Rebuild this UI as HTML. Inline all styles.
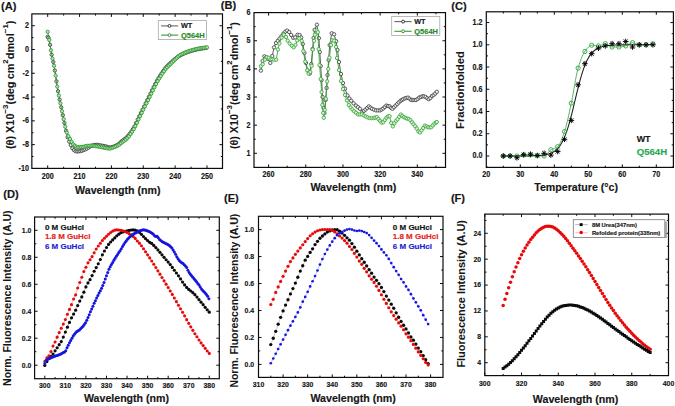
<!DOCTYPE html>
<html><head><meta charset="utf-8"><style>html,body{margin:0;padding:0;background:#fff;}svg{display:block;font-family:"Liberation Sans",sans-serif;}</style></head><body>
<svg xmlns="http://www.w3.org/2000/svg" width="675" height="406" viewBox="0 0 675 406" font-family='"Liberation Sans", sans-serif'>
<rect width="675" height="406" fill="#fff"/>
<rect x="31.85" y="13.9" width="190.65" height="154.5" fill="none" stroke="#0c0c0c" stroke-width="1.2"/>
<path d="M47.7 168.4v-3.0M47.7 13.9v3.0M79.56 168.4v-3.0M79.56 13.9v3.0M111.42 168.4v-3.0M111.42 13.9v3.0M143.28 168.4v-3.0M143.28 13.9v3.0M175.14 168.4v-3.0M175.14 13.9v3.0M207 168.4v-3.0M207 13.9v3.0M63.63 168.4v-1.7M63.63 13.9v1.7M95.49 168.4v-1.7M95.49 13.9v1.7M127.35 168.4v-1.7M127.35 13.9v1.7M159.21 168.4v-1.7M159.21 13.9v1.7M191.07 168.4v-1.7M191.07 13.9v1.7M31.85 144.62h3.0M222.5 144.62h-3.0M31.85 120.84h3.0M222.5 120.84h-3.0M31.85 97.06h3.0M222.5 97.06h-3.0M31.85 73.28h3.0M222.5 73.28h-3.0M31.85 49.5h3.0M222.5 49.5h-3.0M31.85 25.72h3.0M222.5 25.72h-3.0M31.85 156.51h1.7M222.5 156.51h-1.7M31.85 132.73h1.7M222.5 132.73h-1.7M31.85 108.95h1.7M222.5 108.95h-1.7M31.85 85.17h1.7M222.5 85.17h-1.7M31.85 61.39h1.7M222.5 61.39h-1.7M31.85 37.61h1.7M222.5 37.61h-1.7" stroke="#0c0c0c" stroke-width="1" fill="none"/>
<text x="47.7" y="178.6" font-size="8.28" text-anchor="middle" fill="#161616" stroke="#161616" stroke-width="0.15" font-weight="bold" textLength="12.01" lengthAdjust="spacingAndGlyphs">200</text>
<text x="79.56" y="178.6" font-size="8.28" text-anchor="middle" fill="#161616" stroke="#161616" stroke-width="0.15" font-weight="bold" textLength="12.01" lengthAdjust="spacingAndGlyphs">210</text>
<text x="111.42" y="178.6" font-size="8.28" text-anchor="middle" fill="#161616" stroke="#161616" stroke-width="0.15" font-weight="bold" textLength="12.01" lengthAdjust="spacingAndGlyphs">220</text>
<text x="143.28" y="178.6" font-size="8.28" text-anchor="middle" fill="#161616" stroke="#161616" stroke-width="0.15" font-weight="bold" textLength="12.01" lengthAdjust="spacingAndGlyphs">230</text>
<text x="175.14" y="178.6" font-size="8.28" text-anchor="middle" fill="#161616" stroke="#161616" stroke-width="0.15" font-weight="bold" textLength="12.01" lengthAdjust="spacingAndGlyphs">240</text>
<text x="207" y="178.6" font-size="8.28" text-anchor="middle" fill="#161616" stroke="#161616" stroke-width="0.15" font-weight="bold" textLength="12.01" lengthAdjust="spacingAndGlyphs">250</text>
<text x="29" y="170.88" font-size="8.28" text-anchor="end" fill="#161616" stroke="#161616" stroke-width="0.15" font-weight="bold" textLength="10.41" lengthAdjust="spacingAndGlyphs">-10</text>
<text x="29" y="147.1" font-size="8.28" text-anchor="end" fill="#161616" stroke="#161616" stroke-width="0.15" font-weight="bold" textLength="6.4" lengthAdjust="spacingAndGlyphs">-8</text>
<text x="29" y="123.32" font-size="8.28" text-anchor="end" fill="#161616" stroke="#161616" stroke-width="0.15" font-weight="bold" textLength="6.4" lengthAdjust="spacingAndGlyphs">-6</text>
<text x="29" y="99.54" font-size="8.28" text-anchor="end" fill="#161616" stroke="#161616" stroke-width="0.15" font-weight="bold" textLength="6.4" lengthAdjust="spacingAndGlyphs">-4</text>
<text x="29" y="75.76" font-size="8.28" text-anchor="end" fill="#161616" stroke="#161616" stroke-width="0.15" font-weight="bold" textLength="6.4" lengthAdjust="spacingAndGlyphs">-2</text>
<text x="29" y="51.98" font-size="8.28" text-anchor="end" fill="#161616" stroke="#161616" stroke-width="0.15" font-weight="bold" textLength="4" lengthAdjust="spacingAndGlyphs">0</text>
<text x="29" y="28.2" font-size="8.28" text-anchor="end" fill="#161616" stroke="#161616" stroke-width="0.15" font-weight="bold" textLength="4" lengthAdjust="spacingAndGlyphs">2</text>
<rect x="254" y="12.6" width="191.5" height="154.8" fill="none" stroke="#0c0c0c" stroke-width="1.2"/>
<path d="M268.6 167.4v-3.0M268.6 12.6v3.0M305.78 167.4v-3.0M305.78 12.6v3.0M342.96 167.4v-3.0M342.96 12.6v3.0M380.13 167.4v-3.0M380.13 12.6v3.0M417.31 167.4v-3.0M417.31 12.6v3.0M287.19 167.4v-1.7M287.19 12.6v1.7M324.37 167.4v-1.7M324.37 12.6v1.7M361.54 167.4v-1.7M361.54 12.6v1.7M398.72 167.4v-1.7M398.72 12.6v1.7M435.9 167.4v-1.7M435.9 12.6v1.7M254 153.3h3.0M445.5 153.3h-3.0M254 125.16h3.0M445.5 125.16h-3.0M254 97.02h3.0M445.5 97.02h-3.0M254 68.88h3.0M445.5 68.88h-3.0M254 40.74h3.0M445.5 40.74h-3.0M254 139.23h1.7M445.5 139.23h-1.7M254 111.09h1.7M445.5 111.09h-1.7M254 82.95h1.7M445.5 82.95h-1.7M254 54.81h1.7M445.5 54.81h-1.7M254 26.67h1.7M445.5 26.67h-1.7" stroke="#0c0c0c" stroke-width="1" fill="none"/>
<text x="268.6" y="177.4" font-size="8.28" text-anchor="middle" fill="#161616" stroke="#161616" stroke-width="0.15" font-weight="bold" textLength="12.01" lengthAdjust="spacingAndGlyphs">260</text>
<text x="305.78" y="177.4" font-size="8.28" text-anchor="middle" fill="#161616" stroke="#161616" stroke-width="0.15" font-weight="bold" textLength="12.01" lengthAdjust="spacingAndGlyphs">280</text>
<text x="342.96" y="177.4" font-size="8.28" text-anchor="middle" fill="#161616" stroke="#161616" stroke-width="0.15" font-weight="bold" textLength="12.01" lengthAdjust="spacingAndGlyphs">300</text>
<text x="380.13" y="177.4" font-size="8.28" text-anchor="middle" fill="#161616" stroke="#161616" stroke-width="0.15" font-weight="bold" textLength="12.01" lengthAdjust="spacingAndGlyphs">320</text>
<text x="417.31" y="177.4" font-size="8.28" text-anchor="middle" fill="#161616" stroke="#161616" stroke-width="0.15" font-weight="bold" textLength="12.01" lengthAdjust="spacingAndGlyphs">340</text>
<text x="250.6" y="155.78" font-size="8.28" text-anchor="end" fill="#161616" stroke="#161616" stroke-width="0.15" font-weight="bold" textLength="4" lengthAdjust="spacingAndGlyphs">1</text>
<text x="250.6" y="127.64" font-size="8.28" text-anchor="end" fill="#161616" stroke="#161616" stroke-width="0.15" font-weight="bold" textLength="4" lengthAdjust="spacingAndGlyphs">2</text>
<text x="250.6" y="99.5" font-size="8.28" text-anchor="end" fill="#161616" stroke="#161616" stroke-width="0.15" font-weight="bold" textLength="4" lengthAdjust="spacingAndGlyphs">3</text>
<text x="250.6" y="71.36" font-size="8.28" text-anchor="end" fill="#161616" stroke="#161616" stroke-width="0.15" font-weight="bold" textLength="4" lengthAdjust="spacingAndGlyphs">4</text>
<text x="250.6" y="43.22" font-size="8.28" text-anchor="end" fill="#161616" stroke="#161616" stroke-width="0.15" font-weight="bold" textLength="4" lengthAdjust="spacingAndGlyphs">5</text>
<text x="250.6" y="15.08" font-size="8.28" text-anchor="end" fill="#161616" stroke="#161616" stroke-width="0.15" font-weight="bold" textLength="4" lengthAdjust="spacingAndGlyphs">6</text>
<rect x="486.3" y="11.8" width="187.1" height="155.6" fill="none" stroke="#0c0c0c" stroke-width="1.2"/>
<path d="M520.3 167.4v-3.0M520.3 11.8v3.0M554.3 167.4v-3.0M554.3 11.8v3.0M588.3 167.4v-3.0M588.3 11.8v3.0M622.3 167.4v-3.0M622.3 11.8v3.0M656.3 167.4v-3.0M656.3 11.8v3.0M503.3 167.4v-1.7M503.3 11.8v1.7M537.3 167.4v-1.7M537.3 11.8v1.7M571.3 167.4v-1.7M571.3 11.8v1.7M605.3 167.4v-1.7M605.3 11.8v1.7M639.3 167.4v-1.7M639.3 11.8v1.7M486.3 156h3.0M673.4 156h-3.0M486.3 133.76h3.0M673.4 133.76h-3.0M486.3 111.52h3.0M673.4 111.52h-3.0M486.3 89.28h3.0M673.4 89.28h-3.0M486.3 67.04h3.0M673.4 67.04h-3.0M486.3 44.8h3.0M673.4 44.8h-3.0M486.3 22.56h3.0M673.4 22.56h-3.0M486.3 167.12h1.7M673.4 167.12h-1.7M486.3 144.88h1.7M673.4 144.88h-1.7M486.3 122.64h1.7M673.4 122.64h-1.7M486.3 100.4h1.7M673.4 100.4h-1.7M486.3 78.16h1.7M673.4 78.16h-1.7M486.3 55.92h1.7M673.4 55.92h-1.7M486.3 33.68h1.7M673.4 33.68h-1.7" stroke="#0c0c0c" stroke-width="1" fill="none"/>
<text x="486.3" y="177" font-size="8.28" text-anchor="middle" fill="#161616" stroke="#161616" stroke-width="0.15" font-weight="bold" textLength="8.01" lengthAdjust="spacingAndGlyphs">20</text>
<text x="520.3" y="177" font-size="8.28" text-anchor="middle" fill="#161616" stroke="#161616" stroke-width="0.15" font-weight="bold" textLength="8.01" lengthAdjust="spacingAndGlyphs">30</text>
<text x="554.3" y="177" font-size="8.28" text-anchor="middle" fill="#161616" stroke="#161616" stroke-width="0.15" font-weight="bold" textLength="8.01" lengthAdjust="spacingAndGlyphs">40</text>
<text x="588.3" y="177" font-size="8.28" text-anchor="middle" fill="#161616" stroke="#161616" stroke-width="0.15" font-weight="bold" textLength="8.01" lengthAdjust="spacingAndGlyphs">50</text>
<text x="622.3" y="177" font-size="8.28" text-anchor="middle" fill="#161616" stroke="#161616" stroke-width="0.15" font-weight="bold" textLength="8.01" lengthAdjust="spacingAndGlyphs">60</text>
<text x="656.3" y="177" font-size="8.28" text-anchor="middle" fill="#161616" stroke="#161616" stroke-width="0.15" font-weight="bold" textLength="8.01" lengthAdjust="spacingAndGlyphs">70</text>
<text x="482.6" y="158.48" font-size="8.28" text-anchor="end" fill="#161616" stroke="#161616" stroke-width="0.15" font-weight="bold" textLength="10.01" lengthAdjust="spacingAndGlyphs">0.0</text>
<text x="482.6" y="136.24" font-size="8.28" text-anchor="end" fill="#161616" stroke="#161616" stroke-width="0.15" font-weight="bold" textLength="10.01" lengthAdjust="spacingAndGlyphs">0.2</text>
<text x="482.6" y="114" font-size="8.28" text-anchor="end" fill="#161616" stroke="#161616" stroke-width="0.15" font-weight="bold" textLength="10.01" lengthAdjust="spacingAndGlyphs">0.4</text>
<text x="482.6" y="91.76" font-size="8.28" text-anchor="end" fill="#161616" stroke="#161616" stroke-width="0.15" font-weight="bold" textLength="10.01" lengthAdjust="spacingAndGlyphs">0.6</text>
<text x="482.6" y="69.52" font-size="8.28" text-anchor="end" fill="#161616" stroke="#161616" stroke-width="0.15" font-weight="bold" textLength="10.01" lengthAdjust="spacingAndGlyphs">0.8</text>
<text x="482.6" y="47.28" font-size="8.28" text-anchor="end" fill="#161616" stroke="#161616" stroke-width="0.15" font-weight="bold" textLength="10.01" lengthAdjust="spacingAndGlyphs">1.0</text>
<text x="482.6" y="25.04" font-size="8.28" text-anchor="end" fill="#161616" stroke="#161616" stroke-width="0.15" font-weight="bold" textLength="10.01" lengthAdjust="spacingAndGlyphs">1.2</text>
<rect x="34.6" y="217" width="184.7" height="161.7" fill="none" stroke="#0c0c0c" stroke-width="1.2"/>
<path d="M44.8 378.7v-3.0M44.8 217v3.0M65.36 378.7v-3.0M65.36 217v3.0M85.92 378.7v-3.0M85.92 217v3.0M106.49 378.7v-3.0M106.49 217v3.0M127.05 378.7v-3.0M127.05 217v3.0M147.61 378.7v-3.0M147.61 217v3.0M168.18 378.7v-3.0M168.18 217v3.0M188.74 378.7v-3.0M188.74 217v3.0M209.3 378.7v-3.0M209.3 217v3.0M55.08 378.7v-1.7M55.08 217v1.7M75.64 378.7v-1.7M75.64 217v1.7M96.21 378.7v-1.7M96.21 217v1.7M116.77 378.7v-1.7M116.77 217v1.7M137.33 378.7v-1.7M137.33 217v1.7M157.89 378.7v-1.7M157.89 217v1.7M178.46 378.7v-1.7M178.46 217v1.7M199.02 378.7v-1.7M199.02 217v1.7M34.6 365.2h3.0M219.3 365.2h-3.0M34.6 338.22h3.0M219.3 338.22h-3.0M34.6 311.24h3.0M219.3 311.24h-3.0M34.6 284.26h3.0M219.3 284.26h-3.0M34.6 257.28h3.0M219.3 257.28h-3.0M34.6 230.3h3.0M219.3 230.3h-3.0M34.6 351.71h1.7M219.3 351.71h-1.7M34.6 324.73h1.7M219.3 324.73h-1.7M34.6 297.75h1.7M219.3 297.75h-1.7M34.6 270.77h1.7M219.3 270.77h-1.7M34.6 243.79h1.7M219.3 243.79h-1.7" stroke="#0c0c0c" stroke-width="1" fill="none"/>
<text x="44.8" y="388.3" font-size="7.93" text-anchor="middle" fill="#161616" stroke="#161616" stroke-width="0.15" font-weight="bold" textLength="11.51" lengthAdjust="spacingAndGlyphs">300</text>
<text x="65.36" y="388.3" font-size="7.93" text-anchor="middle" fill="#161616" stroke="#161616" stroke-width="0.15" font-weight="bold" textLength="11.51" lengthAdjust="spacingAndGlyphs">310</text>
<text x="85.92" y="388.3" font-size="7.93" text-anchor="middle" fill="#161616" stroke="#161616" stroke-width="0.15" font-weight="bold" textLength="11.51" lengthAdjust="spacingAndGlyphs">320</text>
<text x="106.49" y="388.3" font-size="7.93" text-anchor="middle" fill="#161616" stroke="#161616" stroke-width="0.15" font-weight="bold" textLength="11.51" lengthAdjust="spacingAndGlyphs">330</text>
<text x="127.05" y="388.3" font-size="7.93" text-anchor="middle" fill="#161616" stroke="#161616" stroke-width="0.15" font-weight="bold" textLength="11.51" lengthAdjust="spacingAndGlyphs">340</text>
<text x="147.61" y="388.3" font-size="7.93" text-anchor="middle" fill="#161616" stroke="#161616" stroke-width="0.15" font-weight="bold" textLength="11.51" lengthAdjust="spacingAndGlyphs">350</text>
<text x="168.18" y="388.3" font-size="7.93" text-anchor="middle" fill="#161616" stroke="#161616" stroke-width="0.15" font-weight="bold" textLength="11.51" lengthAdjust="spacingAndGlyphs">360</text>
<text x="188.74" y="388.3" font-size="7.93" text-anchor="middle" fill="#161616" stroke="#161616" stroke-width="0.15" font-weight="bold" textLength="11.51" lengthAdjust="spacingAndGlyphs">370</text>
<text x="209.3" y="388.3" font-size="7.93" text-anchor="middle" fill="#161616" stroke="#161616" stroke-width="0.15" font-weight="bold" textLength="11.51" lengthAdjust="spacingAndGlyphs">380</text>
<text x="31.4" y="367.58" font-size="7.93" text-anchor="end" fill="#161616" stroke="#161616" stroke-width="0.15" font-weight="bold" textLength="9.59" lengthAdjust="spacingAndGlyphs">0.0</text>
<text x="31.4" y="340.6" font-size="7.93" text-anchor="end" fill="#161616" stroke="#161616" stroke-width="0.15" font-weight="bold" textLength="9.59" lengthAdjust="spacingAndGlyphs">0.2</text>
<text x="31.4" y="313.62" font-size="7.93" text-anchor="end" fill="#161616" stroke="#161616" stroke-width="0.15" font-weight="bold" textLength="9.59" lengthAdjust="spacingAndGlyphs">0.4</text>
<text x="31.4" y="286.64" font-size="7.93" text-anchor="end" fill="#161616" stroke="#161616" stroke-width="0.15" font-weight="bold" textLength="9.59" lengthAdjust="spacingAndGlyphs">0.6</text>
<text x="31.4" y="259.66" font-size="7.93" text-anchor="end" fill="#161616" stroke="#161616" stroke-width="0.15" font-weight="bold" textLength="9.59" lengthAdjust="spacingAndGlyphs">0.8</text>
<text x="31.4" y="232.68" font-size="7.93" text-anchor="end" fill="#161616" stroke="#161616" stroke-width="0.15" font-weight="bold" textLength="9.59" lengthAdjust="spacingAndGlyphs">1.0</text>
<rect x="258.5" y="216.3" width="184.5" height="161.1" fill="none" stroke="#0c0c0c" stroke-width="1.2"/>
<path d="M258.5 377.4v-3.0M258.5 216.3v3.0M283.09 377.4v-3.0M283.09 216.3v3.0M307.67 377.4v-3.0M307.67 216.3v3.0M332.26 377.4v-3.0M332.26 216.3v3.0M356.84 377.4v-3.0M356.84 216.3v3.0M381.43 377.4v-3.0M381.43 216.3v3.0M406.01 377.4v-3.0M406.01 216.3v3.0M430.6 377.4v-3.0M430.6 216.3v3.0M270.79 377.4v-1.7M270.79 216.3v1.7M295.38 377.4v-1.7M295.38 216.3v1.7M319.96 377.4v-1.7M319.96 216.3v1.7M344.55 377.4v-1.7M344.55 216.3v1.7M369.14 377.4v-1.7M369.14 216.3v1.7M393.72 377.4v-1.7M393.72 216.3v1.7M418.31 377.4v-1.7M418.31 216.3v1.7M258.5 364.4h3.0M443 364.4h-3.0M258.5 337.44h3.0M443 337.44h-3.0M258.5 310.48h3.0M443 310.48h-3.0M258.5 283.52h3.0M443 283.52h-3.0M258.5 256.56h3.0M443 256.56h-3.0M258.5 229.6h3.0M443 229.6h-3.0M258.5 350.92h1.7M443 350.92h-1.7M258.5 323.96h1.7M443 323.96h-1.7M258.5 297h1.7M443 297h-1.7M258.5 270.04h1.7M443 270.04h-1.7M258.5 243.08h1.7M443 243.08h-1.7" stroke="#0c0c0c" stroke-width="1" fill="none"/>
<text x="258.5" y="386.8" font-size="7.93" text-anchor="middle" fill="#161616" stroke="#161616" stroke-width="0.15" font-weight="bold" textLength="11.51" lengthAdjust="spacingAndGlyphs">310</text>
<text x="283.09" y="386.8" font-size="7.93" text-anchor="middle" fill="#161616" stroke="#161616" stroke-width="0.15" font-weight="bold" textLength="11.51" lengthAdjust="spacingAndGlyphs">320</text>
<text x="307.67" y="386.8" font-size="7.93" text-anchor="middle" fill="#161616" stroke="#161616" stroke-width="0.15" font-weight="bold" textLength="11.51" lengthAdjust="spacingAndGlyphs">330</text>
<text x="332.26" y="386.8" font-size="7.93" text-anchor="middle" fill="#161616" stroke="#161616" stroke-width="0.15" font-weight="bold" textLength="11.51" lengthAdjust="spacingAndGlyphs">340</text>
<text x="356.84" y="386.8" font-size="7.93" text-anchor="middle" fill="#161616" stroke="#161616" stroke-width="0.15" font-weight="bold" textLength="11.51" lengthAdjust="spacingAndGlyphs">350</text>
<text x="381.43" y="386.8" font-size="7.93" text-anchor="middle" fill="#161616" stroke="#161616" stroke-width="0.15" font-weight="bold" textLength="11.51" lengthAdjust="spacingAndGlyphs">360</text>
<text x="406.01" y="386.8" font-size="7.93" text-anchor="middle" fill="#161616" stroke="#161616" stroke-width="0.15" font-weight="bold" textLength="11.51" lengthAdjust="spacingAndGlyphs">370</text>
<text x="430.6" y="386.8" font-size="7.93" text-anchor="middle" fill="#161616" stroke="#161616" stroke-width="0.15" font-weight="bold" textLength="11.51" lengthAdjust="spacingAndGlyphs">380</text>
<text x="254.2" y="366.78" font-size="7.93" text-anchor="end" fill="#161616" stroke="#161616" stroke-width="0.15" font-weight="bold" textLength="9.59" lengthAdjust="spacingAndGlyphs">0.0</text>
<text x="254.2" y="339.82" font-size="7.93" text-anchor="end" fill="#161616" stroke="#161616" stroke-width="0.15" font-weight="bold" textLength="9.59" lengthAdjust="spacingAndGlyphs">0.2</text>
<text x="254.2" y="312.86" font-size="7.93" text-anchor="end" fill="#161616" stroke="#161616" stroke-width="0.15" font-weight="bold" textLength="9.59" lengthAdjust="spacingAndGlyphs">0.4</text>
<text x="254.2" y="285.9" font-size="7.93" text-anchor="end" fill="#161616" stroke="#161616" stroke-width="0.15" font-weight="bold" textLength="9.59" lengthAdjust="spacingAndGlyphs">0.6</text>
<text x="254.2" y="258.94" font-size="7.93" text-anchor="end" fill="#161616" stroke="#161616" stroke-width="0.15" font-weight="bold" textLength="9.59" lengthAdjust="spacingAndGlyphs">0.8</text>
<text x="254.2" y="231.98" font-size="7.93" text-anchor="end" fill="#161616" stroke="#161616" stroke-width="0.15" font-weight="bold" textLength="9.59" lengthAdjust="spacingAndGlyphs">1.0</text>
<rect x="484.8" y="214.1" width="183.7" height="161.5" fill="none" stroke="#0c0c0c" stroke-width="1.2"/>
<path d="M484.8 375.6v-3.0M484.8 214.1v3.0M521.54 375.6v-3.0M521.54 214.1v3.0M558.28 375.6v-3.0M558.28 214.1v3.0M595.02 375.6v-3.0M595.02 214.1v3.0M631.76 375.6v-3.0M631.76 214.1v3.0M668.5 375.6v-3.0M668.5 214.1v3.0M503.17 375.6v-1.7M503.17 214.1v1.7M539.91 375.6v-1.7M539.91 214.1v1.7M576.65 375.6v-1.7M576.65 214.1v1.7M613.39 375.6v-1.7M613.39 214.1v1.7M650.13 375.6v-1.7M650.13 214.1v1.7M484.8 362.7h3.0M668.5 362.7h-3.0M484.8 336.82h3.0M668.5 336.82h-3.0M484.8 310.94h3.0M668.5 310.94h-3.0M484.8 285.06h3.0M668.5 285.06h-3.0M484.8 259.18h3.0M668.5 259.18h-3.0M484.8 233.3h3.0M668.5 233.3h-3.0M484.8 349.76h1.7M668.5 349.76h-1.7M484.8 323.88h1.7M668.5 323.88h-1.7M484.8 298h1.7M668.5 298h-1.7M484.8 272.12h1.7M668.5 272.12h-1.7M484.8 246.24h1.7M668.5 246.24h-1.7M484.8 220.36h1.7M668.5 220.36h-1.7" stroke="#0c0c0c" stroke-width="1" fill="none"/>
<text x="484.8" y="385.6" font-size="7.93" text-anchor="middle" fill="#161616" stroke="#161616" stroke-width="0.15" font-weight="bold" textLength="11.51" lengthAdjust="spacingAndGlyphs">300</text>
<text x="521.54" y="385.6" font-size="7.93" text-anchor="middle" fill="#161616" stroke="#161616" stroke-width="0.15" font-weight="bold" textLength="11.51" lengthAdjust="spacingAndGlyphs">320</text>
<text x="558.28" y="385.6" font-size="7.93" text-anchor="middle" fill="#161616" stroke="#161616" stroke-width="0.15" font-weight="bold" textLength="11.51" lengthAdjust="spacingAndGlyphs">340</text>
<text x="595.02" y="385.6" font-size="7.93" text-anchor="middle" fill="#161616" stroke="#161616" stroke-width="0.15" font-weight="bold" textLength="11.51" lengthAdjust="spacingAndGlyphs">360</text>
<text x="631.76" y="385.6" font-size="7.93" text-anchor="middle" fill="#161616" stroke="#161616" stroke-width="0.15" font-weight="bold" textLength="11.51" lengthAdjust="spacingAndGlyphs">380</text>
<text x="668.5" y="385.6" font-size="7.93" text-anchor="middle" fill="#161616" stroke="#161616" stroke-width="0.15" font-weight="bold" textLength="11.51" lengthAdjust="spacingAndGlyphs">400</text>
<text x="481.2" y="365.08" font-size="7.93" text-anchor="end" fill="#161616" stroke="#161616" stroke-width="0.15" font-weight="bold" textLength="3.84" lengthAdjust="spacingAndGlyphs">4</text>
<text x="481.2" y="339.2" font-size="7.93" text-anchor="end" fill="#161616" stroke="#161616" stroke-width="0.15" font-weight="bold" textLength="3.84" lengthAdjust="spacingAndGlyphs">8</text>
<text x="481.2" y="313.32" font-size="7.93" text-anchor="end" fill="#161616" stroke="#161616" stroke-width="0.15" font-weight="bold" textLength="7.67" lengthAdjust="spacingAndGlyphs">12</text>
<text x="481.2" y="287.44" font-size="7.93" text-anchor="end" fill="#161616" stroke="#161616" stroke-width="0.15" font-weight="bold" textLength="7.67" lengthAdjust="spacingAndGlyphs">16</text>
<text x="481.2" y="261.56" font-size="7.93" text-anchor="end" fill="#161616" stroke="#161616" stroke-width="0.15" font-weight="bold" textLength="7.67" lengthAdjust="spacingAndGlyphs">20</text>
<text x="481.2" y="235.68" font-size="7.93" text-anchor="end" fill="#161616" stroke="#161616" stroke-width="0.15" font-weight="bold" textLength="7.67" lengthAdjust="spacingAndGlyphs">24</text>
<polyline points="47.7,36.8 48.5,37.8 50.09,44.85 51.68,54.68 53.28,61.97 54.87,70.5 56.46,81.31 58.05,91.23 59.65,99.57 61.24,107.28 62.83,115.17 64.43,123.03 66.02,130.79 67.61,137.15 69.21,141.59 70.8,145.13 72.39,148.25 73.98,150.12 75.58,151.24 77.17,151.49 78.76,151.36 80.36,151.14 81.95,150.68 83.54,150.1 85.14,149.42 86.73,148.64 88.32,147.65 89.91,146.54 91.51,145.82 93.1,145.29 94.69,144.91 96.29,144.8 97.88,144.95 99.47,145.23 101.07,145.51 102.66,145.77 104.25,146.05 105.84,146.42 107.44,146.96 109.03,147.4 110.62,147.46 112.22,147.1 113.81,146.56 115.4,145.94 117,145.11 118.59,144.08 120.18,142.66 121.77,141.19 123.37,139.99 124.96,138.87 126.55,137.47 128.15,135.75 129.74,133.77 131.33,131.55 132.93,129.12 134.52,126.37 136.11,123.04 137.7,119.55 139.3,116.26 140.89,113 142.48,109.75 144.08,106.52 145.67,103.31 147.26,100.09 148.86,96.85 150.45,93.57 152.04,90.32 153.63,87.14 155.23,83.99 156.82,80.97 158.41,78.25 160.01,75.77 161.6,73.41 163.19,71.08 164.79,68.88 166.38,66.98 167.97,65.36 169.56,63.9 171.16,62.46 172.75,60.98 174.34,59.55 175.94,58.25 177.53,57.08 179.12,56.02 180.72,55.11 182.31,54.3 183.9,53.57 185.49,52.9 187.09,52.29 188.68,51.73 190.27,51.21 191.87,50.74 193.46,50.3 195.05,49.89 196.65,49.5 198.24,49.14 199.83,48.83 201.42,48.58 203.02,48.36 204.61,48.16 206.2,47.97" fill="none" stroke="#2a2a2a" stroke-width="0.8" stroke-linejoin="round" opacity="1"/>
<g fill="#e4e4e4" stroke="#333" stroke-width="0.8"><circle cx="47.7" cy="36.8" r="1.65"/><circle cx="48.5" cy="37.8" r="1.65"/><circle cx="50.09" cy="44.85" r="1.65"/><circle cx="51.68" cy="54.68" r="1.65"/><circle cx="53.28" cy="61.97" r="1.65"/><circle cx="54.87" cy="70.5" r="1.65"/><circle cx="56.46" cy="81.31" r="1.65"/><circle cx="58.05" cy="91.23" r="1.65"/><circle cx="59.65" cy="99.57" r="1.65"/><circle cx="61.24" cy="107.28" r="1.65"/><circle cx="62.83" cy="115.17" r="1.65"/><circle cx="64.43" cy="123.03" r="1.65"/><circle cx="66.02" cy="130.79" r="1.65"/><circle cx="67.61" cy="137.15" r="1.65"/><circle cx="69.21" cy="141.59" r="1.65"/><circle cx="70.8" cy="145.13" r="1.65"/><circle cx="72.39" cy="148.25" r="1.65"/><circle cx="73.98" cy="150.12" r="1.65"/><circle cx="75.58" cy="151.24" r="1.65"/><circle cx="77.17" cy="151.49" r="1.65"/><circle cx="78.76" cy="151.36" r="1.65"/><circle cx="80.36" cy="151.14" r="1.65"/><circle cx="81.95" cy="150.68" r="1.65"/><circle cx="83.54" cy="150.1" r="1.65"/><circle cx="85.14" cy="149.42" r="1.65"/><circle cx="86.73" cy="148.64" r="1.65"/><circle cx="88.32" cy="147.65" r="1.65"/><circle cx="89.91" cy="146.54" r="1.65"/><circle cx="91.51" cy="145.82" r="1.65"/><circle cx="93.1" cy="145.29" r="1.65"/><circle cx="94.69" cy="144.91" r="1.65"/><circle cx="96.29" cy="144.8" r="1.65"/><circle cx="97.88" cy="144.95" r="1.65"/><circle cx="99.47" cy="145.23" r="1.65"/><circle cx="101.07" cy="145.51" r="1.65"/><circle cx="102.66" cy="145.77" r="1.65"/><circle cx="104.25" cy="146.05" r="1.65"/><circle cx="105.84" cy="146.42" r="1.65"/><circle cx="107.44" cy="146.96" r="1.65"/><circle cx="109.03" cy="147.4" r="1.65"/><circle cx="110.62" cy="147.46" r="1.65"/><circle cx="112.22" cy="147.1" r="1.65"/><circle cx="113.81" cy="146.56" r="1.65"/><circle cx="115.4" cy="145.94" r="1.65"/><circle cx="117" cy="145.11" r="1.65"/><circle cx="118.59" cy="144.08" r="1.65"/><circle cx="120.18" cy="142.66" r="1.65"/><circle cx="121.77" cy="141.19" r="1.65"/><circle cx="123.37" cy="139.99" r="1.65"/><circle cx="124.96" cy="138.87" r="1.65"/><circle cx="126.55" cy="137.47" r="1.65"/><circle cx="128.15" cy="135.75" r="1.65"/><circle cx="129.74" cy="133.77" r="1.65"/><circle cx="131.33" cy="131.55" r="1.65"/><circle cx="132.93" cy="129.12" r="1.65"/><circle cx="134.52" cy="126.37" r="1.65"/><circle cx="136.11" cy="123.04" r="1.65"/><circle cx="137.7" cy="119.55" r="1.65"/><circle cx="139.3" cy="116.26" r="1.65"/><circle cx="140.89" cy="113" r="1.65"/><circle cx="142.48" cy="109.75" r="1.65"/><circle cx="144.08" cy="106.52" r="1.65"/><circle cx="145.67" cy="103.31" r="1.65"/><circle cx="147.26" cy="100.09" r="1.65"/><circle cx="148.86" cy="96.85" r="1.65"/><circle cx="150.45" cy="93.57" r="1.65"/><circle cx="152.04" cy="90.32" r="1.65"/><circle cx="153.63" cy="87.14" r="1.65"/><circle cx="155.23" cy="83.99" r="1.65"/><circle cx="156.82" cy="80.97" r="1.65"/><circle cx="158.41" cy="78.25" r="1.65"/><circle cx="160.01" cy="75.77" r="1.65"/><circle cx="161.6" cy="73.41" r="1.65"/><circle cx="163.19" cy="71.08" r="1.65"/><circle cx="164.79" cy="68.88" r="1.65"/><circle cx="166.38" cy="66.98" r="1.65"/><circle cx="167.97" cy="65.36" r="1.65"/><circle cx="169.56" cy="63.9" r="1.65"/><circle cx="171.16" cy="62.46" r="1.65"/><circle cx="172.75" cy="60.98" r="1.65"/><circle cx="174.34" cy="59.55" r="1.65"/><circle cx="175.94" cy="58.25" r="1.65"/><circle cx="177.53" cy="57.08" r="1.65"/><circle cx="179.12" cy="56.02" r="1.65"/><circle cx="180.72" cy="55.11" r="1.65"/><circle cx="182.31" cy="54.3" r="1.65"/><circle cx="183.9" cy="53.57" r="1.65"/><circle cx="185.49" cy="52.9" r="1.65"/><circle cx="187.09" cy="52.29" r="1.65"/><circle cx="188.68" cy="51.73" r="1.65"/><circle cx="190.27" cy="51.21" r="1.65"/><circle cx="191.87" cy="50.74" r="1.65"/><circle cx="193.46" cy="50.3" r="1.65"/><circle cx="195.05" cy="49.89" r="1.65"/><circle cx="196.65" cy="49.5" r="1.65"/><circle cx="198.24" cy="49.14" r="1.65"/><circle cx="199.83" cy="48.83" r="1.65"/><circle cx="201.42" cy="48.58" r="1.65"/><circle cx="203.02" cy="48.36" r="1.65"/><circle cx="204.61" cy="48.16" r="1.65"/><circle cx="206.2" cy="47.97" r="1.65"/></g>
<polyline points="47.7,31.8 49.29,39.88 50.89,50.3 52.48,58.57 54.07,65.81 55.67,75.63 57.26,86.6 58.85,95.54 60.44,103.39 62.04,111.23 63.63,119.19 65.22,126.68 66.82,132.54 68.41,136.15 70,138.99 71.59,141.81 73.19,144.27 74.78,145.69 76.37,146.74 77.97,147.28 79.56,147.26 81.15,147.11 82.75,146.91 84.34,146.56 85.93,146.12 87.53,145.88 89.12,145.77 90.71,145.71 92.3,145.72 93.9,145.87 95.49,146.11 97.08,146.35 98.68,146.64 100.27,146.94 101.86,147.23 103.46,147.53 105.05,147.81 106.64,148.13 108.23,148.42 109.83,148.48 111.42,148.13 113.01,147.53 114.61,146.94 116.2,146.27 117.79,145.48 119.39,144.5 120.98,143.26 122.57,141.98 124.16,140.83 125.76,139.65 127.35,138.14 128.94,136.27 130.54,134.11 132.13,131.7 133.72,129.13 135.31,126.18 136.91,122.8 138.5,119.4 140.09,116.14 141.69,112.88 143.28,109.64 144.87,106.47 146.47,103.34 148.06,100.18 149.65,96.95 151.25,93.66 152.84,90.42 154.43,87.25 156.02,84.12 157.62,81.17 159.21,78.51 160.8,76.05 162.4,73.63 163.99,71.21 165.58,69.01 167.18,67.22 168.77,65.69 170.36,64.22 171.95,62.64 173.55,61.02 175.14,59.42 176.73,57.91 178.33,56.41 179.92,55.15 181.51,54.21 183.11,53.42 184.7,52.73 186.29,52.08 187.88,51.5 189.48,50.97 191.07,50.47 192.66,50.01 194.26,49.59 195.85,49.19 197.44,48.82 199.04,48.48 200.63,48.2 202.22,47.97 203.81,47.76 205.41,47.56 207,47.38" fill="none" stroke="#2f9a2f" stroke-width="0.8" stroke-linejoin="round" opacity="1"/>
<g fill="#b4e6b4" stroke="#2c962c" stroke-width="0.85"><circle cx="47.7" cy="31.8" r="1.65"/><circle cx="49.29" cy="39.88" r="1.65"/><circle cx="50.89" cy="50.3" r="1.65"/><circle cx="52.48" cy="58.57" r="1.65"/><circle cx="54.07" cy="65.81" r="1.65"/><circle cx="55.67" cy="75.63" r="1.65"/><circle cx="57.26" cy="86.6" r="1.65"/><circle cx="58.85" cy="95.54" r="1.65"/><circle cx="60.44" cy="103.39" r="1.65"/><circle cx="62.04" cy="111.23" r="1.65"/><circle cx="63.63" cy="119.19" r="1.65"/><circle cx="65.22" cy="126.68" r="1.65"/><circle cx="66.82" cy="132.54" r="1.65"/><circle cx="68.41" cy="136.15" r="1.65"/><circle cx="70" cy="138.99" r="1.65"/><circle cx="71.59" cy="141.81" r="1.65"/><circle cx="73.19" cy="144.27" r="1.65"/><circle cx="74.78" cy="145.69" r="1.65"/><circle cx="76.37" cy="146.74" r="1.65"/><circle cx="77.97" cy="147.28" r="1.65"/><circle cx="79.56" cy="147.26" r="1.65"/><circle cx="81.15" cy="147.11" r="1.65"/><circle cx="82.75" cy="146.91" r="1.65"/><circle cx="84.34" cy="146.56" r="1.65"/><circle cx="85.93" cy="146.12" r="1.65"/><circle cx="87.53" cy="145.88" r="1.65"/><circle cx="89.12" cy="145.77" r="1.65"/><circle cx="90.71" cy="145.71" r="1.65"/><circle cx="92.3" cy="145.72" r="1.65"/><circle cx="93.9" cy="145.87" r="1.65"/><circle cx="95.49" cy="146.11" r="1.65"/><circle cx="97.08" cy="146.35" r="1.65"/><circle cx="98.68" cy="146.64" r="1.65"/><circle cx="100.27" cy="146.94" r="1.65"/><circle cx="101.86" cy="147.23" r="1.65"/><circle cx="103.46" cy="147.53" r="1.65"/><circle cx="105.05" cy="147.81" r="1.65"/><circle cx="106.64" cy="148.13" r="1.65"/><circle cx="108.23" cy="148.42" r="1.65"/><circle cx="109.83" cy="148.48" r="1.65"/><circle cx="111.42" cy="148.13" r="1.65"/><circle cx="113.01" cy="147.53" r="1.65"/><circle cx="114.61" cy="146.94" r="1.65"/><circle cx="116.2" cy="146.27" r="1.65"/><circle cx="117.79" cy="145.48" r="1.65"/><circle cx="119.39" cy="144.5" r="1.65"/><circle cx="120.98" cy="143.26" r="1.65"/><circle cx="122.57" cy="141.98" r="1.65"/><circle cx="124.16" cy="140.83" r="1.65"/><circle cx="125.76" cy="139.65" r="1.65"/><circle cx="127.35" cy="138.14" r="1.65"/><circle cx="128.94" cy="136.27" r="1.65"/><circle cx="130.54" cy="134.11" r="1.65"/><circle cx="132.13" cy="131.7" r="1.65"/><circle cx="133.72" cy="129.13" r="1.65"/><circle cx="135.31" cy="126.18" r="1.65"/><circle cx="136.91" cy="122.8" r="1.65"/><circle cx="138.5" cy="119.4" r="1.65"/><circle cx="140.09" cy="116.14" r="1.65"/><circle cx="141.69" cy="112.88" r="1.65"/><circle cx="143.28" cy="109.64" r="1.65"/><circle cx="144.87" cy="106.47" r="1.65"/><circle cx="146.47" cy="103.34" r="1.65"/><circle cx="148.06" cy="100.18" r="1.65"/><circle cx="149.65" cy="96.95" r="1.65"/><circle cx="151.25" cy="93.66" r="1.65"/><circle cx="152.84" cy="90.42" r="1.65"/><circle cx="154.43" cy="87.25" r="1.65"/><circle cx="156.02" cy="84.12" r="1.65"/><circle cx="157.62" cy="81.17" r="1.65"/><circle cx="159.21" cy="78.51" r="1.65"/><circle cx="160.8" cy="76.05" r="1.65"/><circle cx="162.4" cy="73.63" r="1.65"/><circle cx="163.99" cy="71.21" r="1.65"/><circle cx="165.58" cy="69.01" r="1.65"/><circle cx="167.18" cy="67.22" r="1.65"/><circle cx="168.77" cy="65.69" r="1.65"/><circle cx="170.36" cy="64.22" r="1.65"/><circle cx="171.95" cy="62.64" r="1.65"/><circle cx="173.55" cy="61.02" r="1.65"/><circle cx="175.14" cy="59.42" r="1.65"/><circle cx="176.73" cy="57.91" r="1.65"/><circle cx="178.33" cy="56.41" r="1.65"/><circle cx="179.92" cy="55.15" r="1.65"/><circle cx="181.51" cy="54.21" r="1.65"/><circle cx="183.11" cy="53.42" r="1.65"/><circle cx="184.7" cy="52.73" r="1.65"/><circle cx="186.29" cy="52.08" r="1.65"/><circle cx="187.88" cy="51.5" r="1.65"/><circle cx="189.48" cy="50.97" r="1.65"/><circle cx="191.07" cy="50.47" r="1.65"/><circle cx="192.66" cy="50.01" r="1.65"/><circle cx="194.26" cy="49.59" r="1.65"/><circle cx="195.85" cy="49.19" r="1.65"/><circle cx="197.44" cy="48.82" r="1.65"/><circle cx="199.04" cy="48.48" r="1.65"/><circle cx="200.63" cy="48.2" r="1.65"/><circle cx="202.22" cy="47.97" r="1.65"/><circle cx="203.81" cy="47.76" r="1.65"/><circle cx="205.41" cy="47.56" r="1.65"/><circle cx="207" cy="47.38" r="1.65"/></g>
<polyline points="260.9,70.6 262.6,61 264.4,56.3 266.3,57.2 268.2,58.8 270.3,62.9 272.3,56 274,47.4 276,43 277.8,40.8 279.6,38.6 281.5,36.2 283.4,33.6 285.3,31.6 287.2,30.6 289.2,32.1 291.2,35 293.2,37.8 295.2,37.4 297.5,34.8 299.6,35 301.2,37.5 302.8,44 304.4,53 306,63 307.8,70.5 309.8,73.6 311.3,64 312.6,49 313.6,38 314.6,29.9 316.9,24.7 318.9,38.2 319.8,52 320.7,66 321.6,80 322.6,97 323.6,108 324.4,113 325.6,100 326.6,88 327.5,75 328.6,60 329.7,45.1 331.7,33.3 334.1,34.3 336.1,41.2 337.5,50 339,62 341,74 343,83 345,88.7 347.5,95.5 349.4,98.5 351.2,100.8 353.6,103.4 356,105.6 358,107.2 360,108.8 362.4,112 364,110.8 365.6,109.6 367.2,108 368.8,106.4 370.4,107.6 372,108.8 374,109.6 376,110.4 378,110.4 380,110.4 381.6,109.5 383.2,108.5 384.8,107 386.4,105.6 388,106 389.6,106.4 391,107.8 392.4,108.8 394,107.2 395.6,105.6 397.2,104 398.8,102.4 400.4,101 401.8,100 403.2,99.2 404.8,98.4 406.4,98 408,97.6 409.6,98.8 411.2,100 412.8,100 414.4,100 416,100 417.6,99 419.2,97.6 420.8,97 422.4,96.2 424,96.4 425.6,97 427.2,98.2 428.8,99.2 430.4,98 432,96 433.6,95 435.2,93.6 436.8,91.8" fill="none" stroke="#333" stroke-width="0.8" stroke-linejoin="round" opacity="1"/>
<g fill="#f4f4f4" stroke="#3a3a3a" stroke-width="0.8"><circle cx="260.9" cy="70.6" r="1.7"/><circle cx="262.6" cy="61" r="1.7"/><circle cx="264.4" cy="56.3" r="1.7"/><circle cx="266.3" cy="57.2" r="1.7"/><circle cx="268.2" cy="58.8" r="1.7"/><circle cx="270.3" cy="62.9" r="1.7"/><circle cx="272.3" cy="56" r="1.7"/><circle cx="274" cy="47.4" r="1.7"/><circle cx="276" cy="43" r="1.7"/><circle cx="277.8" cy="40.8" r="1.7"/><circle cx="279.6" cy="38.6" r="1.7"/><circle cx="281.5" cy="36.2" r="1.7"/><circle cx="283.4" cy="33.6" r="1.7"/><circle cx="285.3" cy="31.6" r="1.7"/><circle cx="287.2" cy="30.6" r="1.7"/><circle cx="289.2" cy="32.1" r="1.7"/><circle cx="291.2" cy="35" r="1.7"/><circle cx="293.2" cy="37.8" r="1.7"/><circle cx="295.2" cy="37.4" r="1.7"/><circle cx="297.5" cy="34.8" r="1.7"/><circle cx="299.6" cy="35" r="1.7"/><circle cx="301.2" cy="37.5" r="1.7"/><circle cx="302.8" cy="44" r="1.7"/><circle cx="304.4" cy="53" r="1.7"/><circle cx="306" cy="63" r="1.7"/><circle cx="307.8" cy="70.5" r="1.7"/><circle cx="309.8" cy="73.6" r="1.7"/><circle cx="311.3" cy="64" r="1.7"/><circle cx="312.6" cy="49" r="1.7"/><circle cx="313.6" cy="38" r="1.7"/><circle cx="314.6" cy="29.9" r="1.7"/><circle cx="316.9" cy="24.7" r="1.7"/><circle cx="318.9" cy="38.2" r="1.7"/><circle cx="319.8" cy="52" r="1.7"/><circle cx="320.7" cy="66" r="1.7"/><circle cx="321.6" cy="80" r="1.7"/><circle cx="322.6" cy="97" r="1.7"/><circle cx="323.6" cy="108" r="1.7"/><circle cx="324.4" cy="113" r="1.7"/><circle cx="325.6" cy="100" r="1.7"/><circle cx="326.6" cy="88" r="1.7"/><circle cx="327.5" cy="75" r="1.7"/><circle cx="328.6" cy="60" r="1.7"/><circle cx="329.7" cy="45.1" r="1.7"/><circle cx="331.7" cy="33.3" r="1.7"/><circle cx="334.1" cy="34.3" r="1.7"/><circle cx="336.1" cy="41.2" r="1.7"/><circle cx="337.5" cy="50" r="1.7"/><circle cx="339" cy="62" r="1.7"/><circle cx="341" cy="74" r="1.7"/><circle cx="343" cy="83" r="1.7"/><circle cx="345" cy="88.7" r="1.7"/><circle cx="347.5" cy="95.5" r="1.7"/><circle cx="349.4" cy="98.5" r="1.7"/><circle cx="351.2" cy="100.8" r="1.7"/><circle cx="353.6" cy="103.4" r="1.7"/><circle cx="356" cy="105.6" r="1.7"/><circle cx="358" cy="107.2" r="1.7"/><circle cx="360" cy="108.8" r="1.7"/><circle cx="362.4" cy="112" r="1.7"/><circle cx="364" cy="110.8" r="1.7"/><circle cx="365.6" cy="109.6" r="1.7"/><circle cx="367.2" cy="108" r="1.7"/><circle cx="368.8" cy="106.4" r="1.7"/><circle cx="370.4" cy="107.6" r="1.7"/><circle cx="372" cy="108.8" r="1.7"/><circle cx="374" cy="109.6" r="1.7"/><circle cx="376" cy="110.4" r="1.7"/><circle cx="378" cy="110.4" r="1.7"/><circle cx="380" cy="110.4" r="1.7"/><circle cx="381.6" cy="109.5" r="1.7"/><circle cx="383.2" cy="108.5" r="1.7"/><circle cx="384.8" cy="107" r="1.7"/><circle cx="386.4" cy="105.6" r="1.7"/><circle cx="388" cy="106" r="1.7"/><circle cx="389.6" cy="106.4" r="1.7"/><circle cx="391" cy="107.8" r="1.7"/><circle cx="392.4" cy="108.8" r="1.7"/><circle cx="394" cy="107.2" r="1.7"/><circle cx="395.6" cy="105.6" r="1.7"/><circle cx="397.2" cy="104" r="1.7"/><circle cx="398.8" cy="102.4" r="1.7"/><circle cx="400.4" cy="101" r="1.7"/><circle cx="401.8" cy="100" r="1.7"/><circle cx="403.2" cy="99.2" r="1.7"/><circle cx="404.8" cy="98.4" r="1.7"/><circle cx="406.4" cy="98" r="1.7"/><circle cx="408" cy="97.6" r="1.7"/><circle cx="409.6" cy="98.8" r="1.7"/><circle cx="411.2" cy="100" r="1.7"/><circle cx="412.8" cy="100" r="1.7"/><circle cx="414.4" cy="100" r="1.7"/><circle cx="416" cy="100" r="1.7"/><circle cx="417.6" cy="99" r="1.7"/><circle cx="419.2" cy="97.6" r="1.7"/><circle cx="420.8" cy="97" r="1.7"/><circle cx="422.4" cy="96.2" r="1.7"/><circle cx="424" cy="96.4" r="1.7"/><circle cx="425.6" cy="97" r="1.7"/><circle cx="427.2" cy="98.2" r="1.7"/><circle cx="428.8" cy="99.2" r="1.7"/><circle cx="430.4" cy="98" r="1.7"/><circle cx="432" cy="96" r="1.7"/><circle cx="433.6" cy="95" r="1.7"/><circle cx="435.2" cy="93.6" r="1.7"/><circle cx="436.8" cy="91.8" r="1.7"/></g>
<polyline points="260.9,66.2 262.7,64.2 264.9,59.7 266.8,57.3 268.8,57.8 270.6,59.3 272.4,59.3 274.2,59.7 276.3,59.7 277.9,49.5 279.4,43.6 281.6,37.7 283.8,34.8 286,37 287.7,40.7 289.7,43.6 291.9,45.8 293.7,47.3 295.5,45 297.2,40.5 299.3,38.5 301.7,40.9 303.4,51.2 305.2,61.6 307.2,70.2 308.6,73.6 310.3,72 311.6,65.9 312.8,49.5 314.1,40.9 314.9,34.8 316.7,30.5 317.9,32.2 318.7,49.1 319.5,65 320.7,79 321.6,92 322.4,105 323.2,113 323.8,117.8 324.8,110 325.9,98.8 327.2,81.4 328.3,69 329.4,57.7 331,45 332.2,40.2 334.1,40.7 336,47 337,58 339,70 341,81 343,89 345,95 347,100.5 348.8,105 350.6,107.5 352.4,109.5 354.2,111.3 356,112.8 358,114.4 360,114.4 362,114.4 364,115.5 365.8,116.5 367.6,117.4 369.6,118.1 371.6,118.1 373.6,118.1 375.2,117.6 376.8,117.1 378.4,119 380,120.8 381.6,122.6 383.2,122.2 384.8,120 386.4,117.8 388,116.4 389.6,116.2 391.2,122.9 392.8,126.4 394.4,123.2 396,120.8 397.6,119.2 399.2,116.8 400.8,114.6 402.4,116 404,117.2 405.6,118 407.2,118.6 408.8,119 410.4,120.2 412,122.2 413.6,124.2 415.2,126.2 416.8,128.6 418.4,131.4 420,132.4 421.6,130.4 423.2,128 424.8,125.6 426.4,126.4 428,127.2 429.6,127.4 431.2,127.2 432.8,125.4 434.4,123.6 436,122.6 436.8,122" fill="none" stroke="#2f9a2f" stroke-width="0.8" stroke-linejoin="round" opacity="1"/>
<g fill="#d8f2d8" stroke="#35a535" stroke-width="0.8"><circle cx="260.9" cy="66.2" r="1.7"/><circle cx="262.7" cy="64.2" r="1.7"/><circle cx="264.9" cy="59.7" r="1.7"/><circle cx="266.8" cy="57.3" r="1.7"/><circle cx="268.8" cy="57.8" r="1.7"/><circle cx="270.6" cy="59.3" r="1.7"/><circle cx="272.4" cy="59.3" r="1.7"/><circle cx="274.2" cy="59.7" r="1.7"/><circle cx="276.3" cy="59.7" r="1.7"/><circle cx="277.9" cy="49.5" r="1.7"/><circle cx="279.4" cy="43.6" r="1.7"/><circle cx="281.6" cy="37.7" r="1.7"/><circle cx="283.8" cy="34.8" r="1.7"/><circle cx="286" cy="37" r="1.7"/><circle cx="287.7" cy="40.7" r="1.7"/><circle cx="289.7" cy="43.6" r="1.7"/><circle cx="291.9" cy="45.8" r="1.7"/><circle cx="293.7" cy="47.3" r="1.7"/><circle cx="295.5" cy="45" r="1.7"/><circle cx="297.2" cy="40.5" r="1.7"/><circle cx="299.3" cy="38.5" r="1.7"/><circle cx="301.7" cy="40.9" r="1.7"/><circle cx="303.4" cy="51.2" r="1.7"/><circle cx="305.2" cy="61.6" r="1.7"/><circle cx="307.2" cy="70.2" r="1.7"/><circle cx="308.6" cy="73.6" r="1.7"/><circle cx="310.3" cy="72" r="1.7"/><circle cx="311.6" cy="65.9" r="1.7"/><circle cx="312.8" cy="49.5" r="1.7"/><circle cx="314.1" cy="40.9" r="1.7"/><circle cx="314.9" cy="34.8" r="1.7"/><circle cx="316.7" cy="30.5" r="1.7"/><circle cx="317.9" cy="32.2" r="1.7"/><circle cx="318.7" cy="49.1" r="1.7"/><circle cx="319.5" cy="65" r="1.7"/><circle cx="320.7" cy="79" r="1.7"/><circle cx="321.6" cy="92" r="1.7"/><circle cx="322.4" cy="105" r="1.7"/><circle cx="323.2" cy="113" r="1.7"/><circle cx="323.8" cy="117.8" r="1.7"/><circle cx="324.8" cy="110" r="1.7"/><circle cx="325.9" cy="98.8" r="1.7"/><circle cx="327.2" cy="81.4" r="1.7"/><circle cx="328.3" cy="69" r="1.7"/><circle cx="329.4" cy="57.7" r="1.7"/><circle cx="331" cy="45" r="1.7"/><circle cx="332.2" cy="40.2" r="1.7"/><circle cx="334.1" cy="40.7" r="1.7"/><circle cx="336" cy="47" r="1.7"/><circle cx="337" cy="58" r="1.7"/><circle cx="339" cy="70" r="1.7"/><circle cx="341" cy="81" r="1.7"/><circle cx="343" cy="89" r="1.7"/><circle cx="345" cy="95" r="1.7"/><circle cx="347" cy="100.5" r="1.7"/><circle cx="348.8" cy="105" r="1.7"/><circle cx="350.6" cy="107.5" r="1.7"/><circle cx="352.4" cy="109.5" r="1.7"/><circle cx="354.2" cy="111.3" r="1.7"/><circle cx="356" cy="112.8" r="1.7"/><circle cx="358" cy="114.4" r="1.7"/><circle cx="360" cy="114.4" r="1.7"/><circle cx="362" cy="114.4" r="1.7"/><circle cx="364" cy="115.5" r="1.7"/><circle cx="365.8" cy="116.5" r="1.7"/><circle cx="367.6" cy="117.4" r="1.7"/><circle cx="369.6" cy="118.1" r="1.7"/><circle cx="371.6" cy="118.1" r="1.7"/><circle cx="373.6" cy="118.1" r="1.7"/><circle cx="375.2" cy="117.6" r="1.7"/><circle cx="376.8" cy="117.1" r="1.7"/><circle cx="378.4" cy="119" r="1.7"/><circle cx="380" cy="120.8" r="1.7"/><circle cx="381.6" cy="122.6" r="1.7"/><circle cx="383.2" cy="122.2" r="1.7"/><circle cx="384.8" cy="120" r="1.7"/><circle cx="386.4" cy="117.8" r="1.7"/><circle cx="388" cy="116.4" r="1.7"/><circle cx="389.6" cy="116.2" r="1.7"/><circle cx="391.2" cy="122.9" r="1.7"/><circle cx="392.8" cy="126.4" r="1.7"/><circle cx="394.4" cy="123.2" r="1.7"/><circle cx="396" cy="120.8" r="1.7"/><circle cx="397.6" cy="119.2" r="1.7"/><circle cx="399.2" cy="116.8" r="1.7"/><circle cx="400.8" cy="114.6" r="1.7"/><circle cx="402.4" cy="116" r="1.7"/><circle cx="404" cy="117.2" r="1.7"/><circle cx="405.6" cy="118" r="1.7"/><circle cx="407.2" cy="118.6" r="1.7"/><circle cx="408.8" cy="119" r="1.7"/><circle cx="410.4" cy="120.2" r="1.7"/><circle cx="412" cy="122.2" r="1.7"/><circle cx="413.6" cy="124.2" r="1.7"/><circle cx="415.2" cy="126.2" r="1.7"/><circle cx="416.8" cy="128.6" r="1.7"/><circle cx="418.4" cy="131.4" r="1.7"/><circle cx="420" cy="132.4" r="1.7"/><circle cx="421.6" cy="130.4" r="1.7"/><circle cx="423.2" cy="128" r="1.7"/><circle cx="424.8" cy="125.6" r="1.7"/><circle cx="426.4" cy="126.4" r="1.7"/><circle cx="428" cy="127.2" r="1.7"/><circle cx="429.6" cy="127.4" r="1.7"/><circle cx="431.2" cy="127.2" r="1.7"/><circle cx="432.8" cy="125.4" r="1.7"/><circle cx="434.4" cy="123.6" r="1.7"/><circle cx="436" cy="122.6" r="1.7"/><circle cx="436.8" cy="122" r="1.7"/></g>
<polyline points="503.3,156 504.05,156 504.8,156 505.56,156 506.31,156 507.06,156 507.81,156 508.56,156 509.31,156 510.07,156 510.82,156 511.57,156 512.32,156 513.07,156 513.82,156 514.58,156 515.33,156 516.08,156 516.83,156 517.58,155.97 518.34,155.87 519.09,155.73 519.84,155.56 520.59,155.37 521.34,155.2 522.09,155.04 522.85,154.94 523.6,154.89 524.35,154.89 525.1,154.89 525.85,154.89 526.6,154.89 527.36,154.89 528.11,154.89 528.86,154.89 529.61,154.89 530.36,154.89 531.12,154.9 531.87,154.93 532.62,154.98 533.37,155.04 534.12,155.12 534.87,155.2 535.63,155.28 536.38,155.36 537.13,155.43 537.88,155.5 538.63,155.57 539.38,155.65 540.14,155.73 540.89,155.81 541.64,155.88 542.39,155.94 543.14,155.98 543.89,156 544.65,155.91 545.4,155.53 546.15,154.91 546.9,154.11 547.65,153.22 548.41,152.28 549.16,151.38 549.91,150.57 550.66,149.93 551.41,149.48 552.16,149.12 552.92,148.82 553.67,148.56 554.42,148.3 555.17,148.03 555.92,147.71 556.67,147.33 557.43,146.86 558.18,146.22 558.93,145.26 559.68,143.99 560.43,142.46 561.19,140.71 561.94,138.79 562.69,136.74 563.44,134.61 564.19,132.43 564.94,130.19 565.7,127.66 566.45,124.85 567.2,121.81 567.95,118.59 568.7,115.22 569.45,111.77 570.21,108.27 570.96,104.76 571.71,101.22 572.46,97.33 573.21,93.15 573.97,88.82 574.72,84.48 575.47,80.24 576.22,76.24 576.97,72.61 577.72,69.49 578.48,66.92 579.23,64.53 579.98,62.26 580.73,60.14 581.48,58.16 582.23,56.35 582.99,54.72 583.74,53.28 584.49,52.05 585.24,51.02 585.99,50.01 586.75,49.04 587.5,48.12 588.25,47.28 589,46.55 589.75,45.95 590.5,45.52 591.26,45.28 592.01,45.25 592.76,45.29 593.51,45.36 594.26,45.46 595.01,45.57 595.77,45.68 596.52,45.78 597.27,45.85 598.02,45.9 598.77,45.9 599.53,45.78 600.28,45.54 601.03,45.22 601.78,44.86 602.53,44.49 603.28,44.16 604.04,43.89 604.79,43.72 605.54,43.7 606.29,43.88 607.04,44.23 607.79,44.71 608.55,45.24 609.3,45.79 610.05,46.3 610.8,46.71 611.55,46.96 612.31,47.02 613.06,47.02 613.81,47.02 614.56,47.02 615.31,47.02 616.06,47.02 616.82,47.02 617.57,47.02 618.32,47.02 619.07,47.02 619.82,46.99 620.57,46.93 621.33,46.84 622.08,46.72 622.83,46.57 623.58,46.41 624.33,46.24 625.08,46.06 625.84,45.88 626.59,45.59 627.34,45.19 628.09,44.72 628.84,44.21 629.6,43.71 630.35,43.25 631.1,42.89 631.85,42.65 632.6,42.58 633.35,42.67 634.11,42.89 634.86,43.19 635.61,43.55 636.36,43.91 637.11,44.26 637.86,44.54 638.62,44.74 639.37,44.8 640.12,44.8 640.87,44.8 641.62,44.8 642.38,44.8 643.13,44.8 643.88,44.8 644.63,44.8 645.38,44.8 646.13,44.8 646.89,44.78 647.64,44.72 648.39,44.63 649.14,44.52 649.89,44.38 650.64,44.22 651.4,44.05 652.15,43.87 652.9,43.69" fill="none" stroke="#3cb04a" stroke-width="0.9" stroke-linejoin="round" opacity="1"/>
<polyline points="503.3,156 504.05,156 504.8,156 505.56,156 506.31,156 507.06,156 507.81,156 508.56,156 509.31,155.99 510.07,155.99 510.82,155.99 511.57,155.99 512.32,155.99 513.07,155.99 513.82,155.99 514.58,155.99 515.33,155.99 516.08,155.98 516.83,155.98 517.58,155.98 518.34,155.98 519.09,155.98 519.84,155.97 520.59,155.97 521.34,155.97 522.09,155.96 522.85,155.96 523.6,155.95 524.35,155.95 525.1,155.94 525.85,155.93 526.6,155.93 527.36,155.92 528.11,155.91 528.86,155.9 529.61,155.88 530.36,155.87 531.12,155.85 531.87,155.84 532.62,155.82 533.37,155.79 534.12,155.77 534.87,155.74 535.63,155.71 536.38,155.67 537.13,155.64 537.88,155.59 538.63,155.54 539.38,155.49 540.14,155.43 540.89,155.36 541.64,155.28 542.39,155.2 543.14,155.1 543.89,155 544.65,154.88 545.4,154.74 546.15,154.59 546.9,154.43 547.65,154.24 548.41,154.03 549.16,153.8 549.91,153.54 550.66,153.26 551.41,152.94 552.16,152.58 552.92,152.18 553.67,151.74 554.42,151.25 555.17,150.71 555.92,150.11 556.67,149.44 557.43,148.71 558.18,147.9 558.93,147 559.68,146.02 560.43,144.94 561.19,143.76 561.94,142.47 562.69,141.06 563.44,139.53 564.19,137.88 564.94,136.09 565.7,134.17 566.45,132.11 567.2,129.91 567.95,127.58 568.7,125.12 569.45,122.53 570.21,119.81 570.96,116.99 571.71,114.08 572.46,111.08 573.21,108.01 573.97,104.9 574.72,101.75 575.47,98.6 576.22,95.46 576.97,92.35 577.72,89.3 578.48,86.31 579.23,83.4 579.98,80.6 580.73,77.9 581.48,75.33 582.23,72.88 582.99,70.57 583.74,68.39 584.49,66.35 585.24,64.45 585.99,62.68 586.75,61.05 587.5,59.54 588.25,58.15 589,56.87 589.75,55.7 590.5,54.64 591.26,53.67 592.01,52.79 592.76,51.98 593.51,51.26 594.26,50.6 595.01,50.01 595.77,49.48 596.52,48.99 597.27,48.56 598.02,48.17 598.77,47.82 599.53,47.5 600.28,47.22 601.03,46.96 601.78,46.74 602.53,46.53 603.28,46.35 604.04,46.18 604.79,46.04 605.54,45.91 606.29,45.79 607.04,45.68 607.79,45.59 608.55,45.51 609.3,45.43 610.05,45.36 610.8,45.3 611.55,45.25 612.31,45.2 613.06,45.16 613.81,45.12 614.56,45.09 615.31,45.06 616.06,45.03 616.82,45 617.57,44.98 618.32,44.96 619.07,44.94 619.82,44.93 620.57,44.92 621.33,44.9 622.08,44.89 622.83,44.88 623.58,44.87 624.33,44.87 625.08,44.86 625.84,44.85 626.59,44.85 627.34,44.84 628.09,44.84 628.84,44.83 629.6,44.83 630.35,44.83 631.1,44.82 631.85,44.82 632.6,44.82 633.35,44.82 634.11,44.82 634.86,44.81 635.61,44.81 636.36,44.81 637.11,44.81 637.86,44.81 638.62,44.81 639.37,44.81 640.12,44.81 640.87,44.81 641.62,44.8 642.38,44.8 643.13,44.8 643.88,44.8 644.63,44.8 645.38,44.8 646.13,44.8 646.89,44.8 647.64,44.8 648.39,44.8 649.14,44.8 649.89,44.8 650.64,44.8 651.4,44.8 652.15,44.8 652.9,44.8" fill="none" stroke="#1a1a1a" stroke-width="1.05" stroke-linejoin="round" opacity="1"/>
<g fill="none" stroke="#2a9c3a" stroke-width="0.85"><circle cx="503.3" cy="156" r="2.1"/><circle cx="510.1" cy="156" r="2.1"/><circle cx="516.9" cy="156" r="2.1"/><circle cx="523.7" cy="154.89" r="2.1"/><circle cx="530.5" cy="154.89" r="2.1"/><circle cx="537.3" cy="155.44" r="2.1"/><circle cx="544.1" cy="156" r="2.1"/><circle cx="550.9" cy="149.77" r="2.1"/><circle cx="557.7" cy="146.66" r="2.1"/><circle cx="564.5" cy="131.54" r="2.1"/><circle cx="571.3" cy="103.18" r="2.1"/><circle cx="578.1" cy="68.15" r="2.1"/><circle cx="584.9" cy="51.47" r="2.1"/><circle cx="591.7" cy="45.24" r="2.1"/><circle cx="598.5" cy="45.91" r="2.1"/><circle cx="605.3" cy="43.69" r="2.1"/><circle cx="612.1" cy="47.02" r="2.1"/><circle cx="618.9" cy="47.02" r="2.1"/><circle cx="625.7" cy="45.91" r="2.1"/><circle cx="632.5" cy="42.58" r="2.1"/><circle cx="639.3" cy="44.8" r="2.1"/><circle cx="646.1" cy="44.8" r="2.1"/><circle cx="652.9" cy="43.69" r="2.1"/></g>
<path d="M500.5 156L506.1 156M501.32 154.02L505.28 157.98M503.3 153.2L503.3 158.8M505.28 154.02L501.32 157.98M507.3 156L512.9 156M508.12 154.02L512.08 157.98M510.1 153.2L510.1 158.8M512.08 154.02L508.12 157.98M514.1 157.78L519.7 157.78M514.92 155.8L518.88 159.76M516.9 154.98L516.9 160.58M518.88 155.8L514.92 159.76M520.9 154.67L526.5 154.67M521.72 152.69L525.68 156.65M523.7 151.87L523.7 157.47M525.68 152.69L521.72 156.65M527.7 154.22L533.3 154.22M528.52 152.24L532.48 156.2M530.5 151.42L530.5 157.02M532.48 152.24L528.52 156.2M534.5 155.56L540.1 155.56M535.32 153.58L539.28 157.54M537.3 152.76L537.3 158.36M539.28 153.58L535.32 157.54M541.3 153.33L546.9 153.33M542.12 151.35L546.08 155.31M544.1 150.53L544.1 156.13M546.08 151.35L542.12 155.31M548.1 155.11L553.7 155.11M548.92 153.13L552.88 157.09M550.9 152.31L550.9 157.91M552.88 153.13L548.92 157.09M554.9 151.55L560.5 151.55M555.72 149.57L559.68 153.53M557.7 148.75L557.7 154.35M559.68 149.57L555.72 153.53M561.7 139.32L567.3 139.32M562.52 137.34L566.48 141.3M564.5 136.52L564.5 142.12M566.48 137.34L562.52 141.3M568.5 120.42L574.1 120.42M569.32 118.44L573.28 122.4M571.3 117.62L571.3 123.22M573.28 118.44L569.32 122.4M575.3 84.83L580.9 84.83M576.12 82.85L580.08 86.81M578.1 82.03L578.1 87.63M580.08 82.85L576.12 86.81M582.1 63.7L587.7 63.7M582.92 61.72L586.88 65.68M584.9 60.9L584.9 66.5M586.88 61.72L582.92 65.68M588.9 53.7L594.5 53.7M589.72 51.72L593.68 55.68M591.7 50.9L591.7 56.5M593.68 51.72L589.72 55.68M595.7 48.14L601.3 48.14M596.52 46.16L600.48 50.12M598.5 45.34L598.5 50.94M600.48 46.16L596.52 50.12M602.5 45.91L608.1 45.91M603.32 43.93L607.28 47.89M605.3 43.11L605.3 48.71M607.28 43.93L603.32 47.89M609.3 43.69L614.9 43.69M610.12 41.71L614.08 45.67M612.1 40.89L612.1 46.49M614.08 41.71L610.12 45.67M616.1 43.69L621.7 43.69M616.92 41.71L620.88 45.67M618.9 40.89L618.9 46.49M620.88 41.71L616.92 45.67M622.9 41.46L628.5 41.46M623.72 39.48L627.68 43.44M625.7 38.66L625.7 44.26M627.68 39.48L623.72 43.44M629.7 47.02L635.3 47.02M630.52 45.04L634.48 49M632.5 44.22L632.5 49.82M634.48 45.04L630.52 49M636.5 44.8L642.1 44.8M637.32 42.82L641.28 46.78M639.3 42L639.3 47.6M641.28 42.82L637.32 46.78M643.3 44.8L648.9 44.8M644.12 42.82L648.08 46.78M646.1 42L646.1 47.6M648.08 42.82L644.12 46.78M650.1 44.8L655.7 44.8M650.92 42.82L654.88 46.78M652.9 42L652.9 47.6M654.88 42.82L650.92 46.78" stroke="#000" stroke-width="0.95" fill="none"/>
<polyline points="44.8,365.5 46.86,361.57 48.91,358.76 50.97,356.42 53.02,354.09 55.08,350.83 57.14,347.74 59.19,344.7 61.25,341.62 63.31,337.12 65.36,332.09 67.42,327.19 69.47,322.41 71.53,317.78 73.59,314.04 75.64,310.18 77.7,305.55 79.76,301.09 81.81,296.94 83.87,292.2 85.92,286.89 87.98,282.89 90.04,279.65 92.09,275.6 94.15,271.25 96.21,267.58 98.26,263.77 100.32,259.51 102.38,254.79 104.43,251.02 106.49,247.5 108.54,244.41 110.6,242 112.66,239.94 114.71,237.89 116.77,235.83 118.82,234.19 120.88,232.74 122.94,232.01 124.99,231.4 127.05,230.93 129.11,230.45 131.16,230 133.22,229.94 135.27,230.17 137.33,230.9 139.39,232.36 141.44,234.34 143.5,236.6 145.56,238.66 147.61,240.57 149.67,242.29 151.72,243.4 153.78,245.38 155.84,247.59 157.89,249.94 159.95,252.35 162.01,254.83 164.06,257.3 166.12,259.74 168.18,262.04 170.23,264.59 172.29,267.43 174.34,270.23 176.4,273.02 178.46,275.81 180.51,278.95 182.57,282.06 184.62,284.96 186.68,287.38 188.74,289.44 190.79,291.02 192.85,292.65 194.91,294.71 196.96,297.04 199.02,299.64 201.07,302.18 203.13,304.72 205.19,307.32 207.24,309.81 209.3,312.2" fill="none" stroke="#777" stroke-width="0.5" stroke-linejoin="round" opacity="1"/>
<g fill="#0a0a0a" stroke="none" stroke-width="0.7"><circle cx="44.8" cy="365.5" r="1.6"/><circle cx="46.86" cy="361.57" r="1.6"/><circle cx="48.91" cy="358.76" r="1.6"/><circle cx="50.97" cy="356.42" r="1.6"/><circle cx="53.02" cy="354.09" r="1.6"/><circle cx="55.08" cy="350.83" r="1.6"/><circle cx="57.14" cy="347.74" r="1.6"/><circle cx="59.19" cy="344.7" r="1.6"/><circle cx="61.25" cy="341.62" r="1.6"/><circle cx="63.31" cy="337.12" r="1.6"/><circle cx="65.36" cy="332.09" r="1.6"/><circle cx="67.42" cy="327.19" r="1.6"/><circle cx="69.47" cy="322.41" r="1.6"/><circle cx="71.53" cy="317.78" r="1.6"/><circle cx="73.59" cy="314.04" r="1.6"/><circle cx="75.64" cy="310.18" r="1.6"/><circle cx="77.7" cy="305.55" r="1.6"/><circle cx="79.76" cy="301.09" r="1.6"/><circle cx="81.81" cy="296.94" r="1.6"/><circle cx="83.87" cy="292.2" r="1.6"/><circle cx="85.92" cy="286.89" r="1.6"/><circle cx="87.98" cy="282.89" r="1.6"/><circle cx="90.04" cy="279.65" r="1.6"/><circle cx="92.09" cy="275.6" r="1.6"/><circle cx="94.15" cy="271.25" r="1.6"/><circle cx="96.21" cy="267.58" r="1.6"/><circle cx="98.26" cy="263.77" r="1.6"/><circle cx="100.32" cy="259.51" r="1.6"/><circle cx="102.38" cy="254.79" r="1.6"/><circle cx="104.43" cy="251.02" r="1.6"/><circle cx="106.49" cy="247.5" r="1.6"/><circle cx="108.54" cy="244.41" r="1.6"/><circle cx="110.6" cy="242" r="1.6"/><circle cx="112.66" cy="239.94" r="1.6"/><circle cx="114.71" cy="237.89" r="1.6"/><circle cx="116.77" cy="235.83" r="1.6"/><circle cx="118.82" cy="234.19" r="1.6"/><circle cx="120.88" cy="232.74" r="1.6"/><circle cx="122.94" cy="232.01" r="1.6"/><circle cx="124.99" cy="231.4" r="1.6"/><circle cx="127.05" cy="230.93" r="1.6"/><circle cx="129.11" cy="230.45" r="1.6"/><circle cx="131.16" cy="230" r="1.6"/><circle cx="133.22" cy="229.94" r="1.6"/><circle cx="135.27" cy="230.17" r="1.6"/><circle cx="137.33" cy="230.9" r="1.6"/><circle cx="139.39" cy="232.36" r="1.6"/><circle cx="141.44" cy="234.34" r="1.6"/><circle cx="143.5" cy="236.6" r="1.6"/><circle cx="145.56" cy="238.66" r="1.6"/><circle cx="147.61" cy="240.57" r="1.6"/><circle cx="149.67" cy="242.29" r="1.6"/><circle cx="151.72" cy="243.4" r="1.6"/><circle cx="153.78" cy="245.38" r="1.6"/><circle cx="155.84" cy="247.59" r="1.6"/><circle cx="157.89" cy="249.94" r="1.6"/><circle cx="159.95" cy="252.35" r="1.6"/><circle cx="162.01" cy="254.83" r="1.6"/><circle cx="164.06" cy="257.3" r="1.6"/><circle cx="166.12" cy="259.74" r="1.6"/><circle cx="168.18" cy="262.04" r="1.6"/><circle cx="170.23" cy="264.59" r="1.6"/><circle cx="172.29" cy="267.43" r="1.6"/><circle cx="174.34" cy="270.23" r="1.6"/><circle cx="176.4" cy="273.02" r="1.6"/><circle cx="178.46" cy="275.81" r="1.6"/><circle cx="180.51" cy="278.95" r="1.6"/><circle cx="182.57" cy="282.06" r="1.6"/><circle cx="184.62" cy="284.96" r="1.6"/><circle cx="186.68" cy="287.38" r="1.6"/><circle cx="188.74" cy="289.44" r="1.6"/><circle cx="190.79" cy="291.02" r="1.6"/><circle cx="192.85" cy="292.65" r="1.6"/><circle cx="194.91" cy="294.71" r="1.6"/><circle cx="196.96" cy="297.04" r="1.6"/><circle cx="199.02" cy="299.64" r="1.6"/><circle cx="201.07" cy="302.18" r="1.6"/><circle cx="203.13" cy="304.72" r="1.6"/><circle cx="205.19" cy="307.32" r="1.6"/><circle cx="207.24" cy="309.81" r="1.6"/><circle cx="209.3" cy="312.2" r="1.6"/></g>
<polyline points="44.8,361.5 46.86,357.69 48.91,355.69 50.97,351.61 53.02,346 55.08,341.97 57.14,337.15 59.19,332.62 61.25,328.27 63.31,324.09 65.36,319.53 67.42,314.27 69.47,309.4 71.53,304.66 73.59,299.03 75.64,294.91 77.7,288 79.76,282.55 81.81,277.26 83.87,271.46 85.92,267.32 87.98,262.76 90.04,259.79 92.09,256.62 94.15,252.74 96.21,249.07 98.26,245.96 100.32,243.19 102.38,240.53 104.43,238.2 106.49,236.2 108.54,234.3 110.6,232.49 112.66,231.08 114.71,230.17 116.77,229.86 118.82,230.03 120.88,230.34 122.94,230.76 124.99,231.43 127.05,232.43 129.11,233.63 131.16,234.92 133.22,236.45 135.27,238.38 137.33,240.95 139.39,243.16 141.44,245.75 143.5,248.69 145.56,251.82 147.61,254.85 149.67,257.92 151.72,261.03 153.78,264.27 155.84,267.54 157.89,270.83 159.95,274.16 162.01,277.55 164.06,280.86 166.12,284.16 168.18,287.55 170.23,290.95 172.29,294.38 174.34,298.01 176.4,301.65 178.46,305.23 180.51,308.71 182.57,312.19 184.62,315.86 186.68,319.63 188.74,323.33 190.79,326.84 192.85,330.35 194.91,333.71 196.96,336.81 199.02,340.06 201.07,342.89 203.13,345.61 205.19,348.33 207.24,351.06 209.3,353.4" fill="none" stroke="#ff7070" stroke-width="0.5" stroke-linejoin="round" opacity="1"/>
<g fill="#e60a0a" stroke="none" stroke-width="0.7"><circle cx="44.8" cy="361.5" r="1.55"/><circle cx="46.86" cy="357.69" r="1.55"/><circle cx="48.91" cy="355.69" r="1.55"/><circle cx="50.97" cy="351.61" r="1.55"/><circle cx="53.02" cy="346" r="1.55"/><circle cx="55.08" cy="341.97" r="1.55"/><circle cx="57.14" cy="337.15" r="1.55"/><circle cx="59.19" cy="332.62" r="1.55"/><circle cx="61.25" cy="328.27" r="1.55"/><circle cx="63.31" cy="324.09" r="1.55"/><circle cx="65.36" cy="319.53" r="1.55"/><circle cx="67.42" cy="314.27" r="1.55"/><circle cx="69.47" cy="309.4" r="1.55"/><circle cx="71.53" cy="304.66" r="1.55"/><circle cx="73.59" cy="299.03" r="1.55"/><circle cx="75.64" cy="294.91" r="1.55"/><circle cx="77.7" cy="288" r="1.55"/><circle cx="79.76" cy="282.55" r="1.55"/><circle cx="81.81" cy="277.26" r="1.55"/><circle cx="83.87" cy="271.46" r="1.55"/><circle cx="85.92" cy="267.32" r="1.55"/><circle cx="87.98" cy="262.76" r="1.55"/><circle cx="90.04" cy="259.79" r="1.55"/><circle cx="92.09" cy="256.62" r="1.55"/><circle cx="94.15" cy="252.74" r="1.55"/><circle cx="96.21" cy="249.07" r="1.55"/><circle cx="98.26" cy="245.96" r="1.55"/><circle cx="100.32" cy="243.19" r="1.55"/><circle cx="102.38" cy="240.53" r="1.55"/><circle cx="104.43" cy="238.2" r="1.55"/><circle cx="106.49" cy="236.2" r="1.55"/><circle cx="108.54" cy="234.3" r="1.55"/><circle cx="110.6" cy="232.49" r="1.55"/><circle cx="112.66" cy="231.08" r="1.55"/><circle cx="114.71" cy="230.17" r="1.55"/><circle cx="116.77" cy="229.86" r="1.55"/><circle cx="118.82" cy="230.03" r="1.55"/><circle cx="120.88" cy="230.34" r="1.55"/><circle cx="122.94" cy="230.76" r="1.55"/><circle cx="124.99" cy="231.43" r="1.55"/><circle cx="127.05" cy="232.43" r="1.55"/><circle cx="129.11" cy="233.63" r="1.55"/><circle cx="131.16" cy="234.92" r="1.55"/><circle cx="133.22" cy="236.45" r="1.55"/><circle cx="135.27" cy="238.38" r="1.55"/><circle cx="137.33" cy="240.95" r="1.55"/><circle cx="139.39" cy="243.16" r="1.55"/><circle cx="141.44" cy="245.75" r="1.55"/><circle cx="143.5" cy="248.69" r="1.55"/><circle cx="145.56" cy="251.82" r="1.55"/><circle cx="147.61" cy="254.85" r="1.55"/><circle cx="149.67" cy="257.92" r="1.55"/><circle cx="151.72" cy="261.03" r="1.55"/><circle cx="153.78" cy="264.27" r="1.55"/><circle cx="155.84" cy="267.54" r="1.55"/><circle cx="157.89" cy="270.83" r="1.55"/><circle cx="159.95" cy="274.16" r="1.55"/><circle cx="162.01" cy="277.55" r="1.55"/><circle cx="164.06" cy="280.86" r="1.55"/><circle cx="166.12" cy="284.16" r="1.55"/><circle cx="168.18" cy="287.55" r="1.55"/><circle cx="170.23" cy="290.95" r="1.55"/><circle cx="172.29" cy="294.38" r="1.55"/><circle cx="174.34" cy="298.01" r="1.55"/><circle cx="176.4" cy="301.65" r="1.55"/><circle cx="178.46" cy="305.23" r="1.55"/><circle cx="180.51" cy="308.71" r="1.55"/><circle cx="182.57" cy="312.19" r="1.55"/><circle cx="184.62" cy="315.86" r="1.55"/><circle cx="186.68" cy="319.63" r="1.55"/><circle cx="188.74" cy="323.33" r="1.55"/><circle cx="190.79" cy="326.84" r="1.55"/><circle cx="192.85" cy="330.35" r="1.55"/><circle cx="194.91" cy="333.71" r="1.55"/><circle cx="196.96" cy="336.81" r="1.55"/><circle cx="199.02" cy="340.06" r="1.55"/><circle cx="201.07" cy="342.89" r="1.55"/><circle cx="203.13" cy="345.61" r="1.55"/><circle cx="205.19" cy="348.33" r="1.55"/><circle cx="207.24" cy="351.06" r="1.55"/><circle cx="209.3" cy="353.4" r="1.55"/></g>
<polyline points="44.8,363.76 46.03,360.28 47.27,359.47 48.5,358.66 49.74,358.15 50.97,357.65 52.2,357.16 53.44,356.73 54.67,356.29 55.9,355.86 57.14,355.44 58.37,355.02 59.61,354.5 60.84,353.88 62.07,353.26 63.31,352.6 64.54,351.93 65.77,350.76 67.01,347.85 68.24,345.27 69.48,342.78 70.71,340.55 71.94,338.31 73.18,336.07 74.41,334.24 75.64,332.63 76.88,331.47 78.11,330.7 79.35,329.92 80.58,328.8 81.81,327.53 83.05,326.26 84.28,324.48 85.51,322.67 86.75,320.15 87.98,317.46 89.22,314.67 90.45,311.86 91.68,309.04 92.92,306.16 94.15,303.29 95.38,300.63 96.62,297.98 97.85,295.54 99.09,293.12 100.32,290.7 101.55,288.29 102.79,285.41 104.02,282.47 105.25,279.12 106.49,275.66 107.72,272.45 108.96,269.36 110.19,266.65 111.42,264.52 112.66,262.38 113.89,260.25 115.12,258.17 116.36,256.35 117.59,254.5 118.83,252.6 120.06,250.67 121.29,248.63 122.53,246.59 123.76,244.55 124.99,242.51 126.23,240.89 127.46,239.28 128.7,238 129.93,236.77 131.16,235.72 132.4,234.73 133.63,233.98 134.86,233.37 136.1,232.75 137.33,232.12 138.57,231.48 139.8,230.87 141.03,230.48 142.27,230.09 143.5,229.86 144.73,230.1 145.97,230.34 147.2,230.67 148.44,231.2 149.67,231.73 150.9,232.39 152.14,233.2 153.37,234.24 154.6,235.67 155.84,236.58 157.07,236.15 158.31,237.72 159.54,239.61 160.77,240.56 162.01,241.5 163.24,242.23 164.47,242.87 165.71,243.5 166.94,244.12 168.18,244.74 169.41,245.41 170.64,246.64 171.88,247.88 173.11,249.88 174.34,251.91 175.58,254.31 176.81,256.73 178.05,258.67 179.28,260.52 180.51,261.7 181.75,262.64 182.98,263.58 184.21,264.81 185.45,266.05 186.68,267.58 187.92,270.15 189.15,272.59 190.38,274.15 191.62,275.71 192.85,277.25 194.08,278.77 195.32,280.28 196.55,281.82 197.79,283.38 199.02,284.94 200.25,286.91 201.49,289 202.72,290.49 203.95,291.67 205.19,292.99 206.42,294.42 207.66,296.34 208.89,298.86" fill="none" stroke="#7070ff" stroke-width="0.5" stroke-linejoin="round" opacity="1"/>
<g fill="#1515e0" stroke="none" stroke-width="0.7"><circle cx="44.8" cy="363.76" r="1.5"/><circle cx="46.03" cy="360.28" r="1.5"/><circle cx="47.27" cy="359.47" r="1.5"/><circle cx="48.5" cy="358.66" r="1.5"/><circle cx="49.74" cy="358.15" r="1.5"/><circle cx="50.97" cy="357.65" r="1.5"/><circle cx="52.2" cy="357.16" r="1.5"/><circle cx="53.44" cy="356.73" r="1.5"/><circle cx="54.67" cy="356.29" r="1.5"/><circle cx="55.9" cy="355.86" r="1.5"/><circle cx="57.14" cy="355.44" r="1.5"/><circle cx="58.37" cy="355.02" r="1.5"/><circle cx="59.61" cy="354.5" r="1.5"/><circle cx="60.84" cy="353.88" r="1.5"/><circle cx="62.07" cy="353.26" r="1.5"/><circle cx="63.31" cy="352.6" r="1.5"/><circle cx="64.54" cy="351.93" r="1.5"/><circle cx="65.77" cy="350.76" r="1.5"/><circle cx="67.01" cy="347.85" r="1.5"/><circle cx="68.24" cy="345.27" r="1.5"/><circle cx="69.48" cy="342.78" r="1.5"/><circle cx="70.71" cy="340.55" r="1.5"/><circle cx="71.94" cy="338.31" r="1.5"/><circle cx="73.18" cy="336.07" r="1.5"/><circle cx="74.41" cy="334.24" r="1.5"/><circle cx="75.64" cy="332.63" r="1.5"/><circle cx="76.88" cy="331.47" r="1.5"/><circle cx="78.11" cy="330.7" r="1.5"/><circle cx="79.35" cy="329.92" r="1.5"/><circle cx="80.58" cy="328.8" r="1.5"/><circle cx="81.81" cy="327.53" r="1.5"/><circle cx="83.05" cy="326.26" r="1.5"/><circle cx="84.28" cy="324.48" r="1.5"/><circle cx="85.51" cy="322.67" r="1.5"/><circle cx="86.75" cy="320.15" r="1.5"/><circle cx="87.98" cy="317.46" r="1.5"/><circle cx="89.22" cy="314.67" r="1.5"/><circle cx="90.45" cy="311.86" r="1.5"/><circle cx="91.68" cy="309.04" r="1.5"/><circle cx="92.92" cy="306.16" r="1.5"/><circle cx="94.15" cy="303.29" r="1.5"/><circle cx="95.38" cy="300.63" r="1.5"/><circle cx="96.62" cy="297.98" r="1.5"/><circle cx="97.85" cy="295.54" r="1.5"/><circle cx="99.09" cy="293.12" r="1.5"/><circle cx="100.32" cy="290.7" r="1.5"/><circle cx="101.55" cy="288.29" r="1.5"/><circle cx="102.79" cy="285.41" r="1.5"/><circle cx="104.02" cy="282.47" r="1.5"/><circle cx="105.25" cy="279.12" r="1.5"/><circle cx="106.49" cy="275.66" r="1.5"/><circle cx="107.72" cy="272.45" r="1.5"/><circle cx="108.96" cy="269.36" r="1.5"/><circle cx="110.19" cy="266.65" r="1.5"/><circle cx="111.42" cy="264.52" r="1.5"/><circle cx="112.66" cy="262.38" r="1.5"/><circle cx="113.89" cy="260.25" r="1.5"/><circle cx="115.12" cy="258.17" r="1.5"/><circle cx="116.36" cy="256.35" r="1.5"/><circle cx="117.59" cy="254.5" r="1.5"/><circle cx="118.83" cy="252.6" r="1.5"/><circle cx="120.06" cy="250.67" r="1.5"/><circle cx="121.29" cy="248.63" r="1.5"/><circle cx="122.53" cy="246.59" r="1.5"/><circle cx="123.76" cy="244.55" r="1.5"/><circle cx="124.99" cy="242.51" r="1.5"/><circle cx="126.23" cy="240.89" r="1.5"/><circle cx="127.46" cy="239.28" r="1.5"/><circle cx="128.7" cy="238" r="1.5"/><circle cx="129.93" cy="236.77" r="1.5"/><circle cx="131.16" cy="235.72" r="1.5"/><circle cx="132.4" cy="234.73" r="1.5"/><circle cx="133.63" cy="233.98" r="1.5"/><circle cx="134.86" cy="233.37" r="1.5"/><circle cx="136.1" cy="232.75" r="1.5"/><circle cx="137.33" cy="232.12" r="1.5"/><circle cx="138.57" cy="231.48" r="1.5"/><circle cx="139.8" cy="230.87" r="1.5"/><circle cx="141.03" cy="230.48" r="1.5"/><circle cx="142.27" cy="230.09" r="1.5"/><circle cx="143.5" cy="229.86" r="1.5"/><circle cx="144.73" cy="230.1" r="1.5"/><circle cx="145.97" cy="230.34" r="1.5"/><circle cx="147.2" cy="230.67" r="1.5"/><circle cx="148.44" cy="231.2" r="1.5"/><circle cx="149.67" cy="231.73" r="1.5"/><circle cx="150.9" cy="232.39" r="1.5"/><circle cx="152.14" cy="233.2" r="1.5"/><circle cx="153.37" cy="234.24" r="1.5"/><circle cx="154.6" cy="235.67" r="1.5"/><circle cx="155.84" cy="236.58" r="1.5"/><circle cx="157.07" cy="236.15" r="1.5"/><circle cx="158.31" cy="237.72" r="1.5"/><circle cx="159.54" cy="239.61" r="1.5"/><circle cx="160.77" cy="240.56" r="1.5"/><circle cx="162.01" cy="241.5" r="1.5"/><circle cx="163.24" cy="242.23" r="1.5"/><circle cx="164.47" cy="242.87" r="1.5"/><circle cx="165.71" cy="243.5" r="1.5"/><circle cx="166.94" cy="244.12" r="1.5"/><circle cx="168.18" cy="244.74" r="1.5"/><circle cx="169.41" cy="245.41" r="1.5"/><circle cx="170.64" cy="246.64" r="1.5"/><circle cx="171.88" cy="247.88" r="1.5"/><circle cx="173.11" cy="249.88" r="1.5"/><circle cx="174.34" cy="251.91" r="1.5"/><circle cx="175.58" cy="254.31" r="1.5"/><circle cx="176.81" cy="256.73" r="1.5"/><circle cx="178.05" cy="258.67" r="1.5"/><circle cx="179.28" cy="260.52" r="1.5"/><circle cx="180.51" cy="261.7" r="1.5"/><circle cx="181.75" cy="262.64" r="1.5"/><circle cx="182.98" cy="263.58" r="1.5"/><circle cx="184.21" cy="264.81" r="1.5"/><circle cx="185.45" cy="266.05" r="1.5"/><circle cx="186.68" cy="267.58" r="1.5"/><circle cx="187.92" cy="270.15" r="1.5"/><circle cx="189.15" cy="272.59" r="1.5"/><circle cx="190.38" cy="274.15" r="1.5"/><circle cx="191.62" cy="275.71" r="1.5"/><circle cx="192.85" cy="277.25" r="1.5"/><circle cx="194.08" cy="278.77" r="1.5"/><circle cx="195.32" cy="280.28" r="1.5"/><circle cx="196.55" cy="281.82" r="1.5"/><circle cx="197.79" cy="283.38" r="1.5"/><circle cx="199.02" cy="284.94" r="1.5"/><circle cx="200.25" cy="286.91" r="1.5"/><circle cx="201.49" cy="289" r="1.5"/><circle cx="202.72" cy="290.49" r="1.5"/><circle cx="203.95" cy="291.67" r="1.5"/><circle cx="205.19" cy="292.99" r="1.5"/><circle cx="206.42" cy="294.42" r="1.5"/><circle cx="207.66" cy="296.34" r="1.5"/><circle cx="208.89" cy="298.86" r="1.5"/></g>
<polyline points="270.79,344.53 273.25,338.23 275.71,331.33 278.17,324.15 280.63,317.37 283.09,310.94 285.54,305.12 288,299.73 290.46,293.89 292.92,288.61 295.38,283.05 297.84,277.23 300.3,271.08 302.75,265.75 305.21,260.14 307.67,256.4 310.13,252.41 312.59,248.83 315.05,244.59 317.51,241.29 319.96,238.27 322.42,235.99 324.88,233.91 327.34,232.06 329.8,230.88 332.26,229.81 334.72,229.61 337.17,229.74 339.63,231.21 342.09,233.1 344.55,235.35 347.01,237.79 349.47,240.22 351.93,243.6 354.38,247.16 356.84,251.22 359.3,254.83 361.76,258.63 364.22,262.27 366.68,265.94 369.14,269.67 371.59,273.14 374.05,277.06 376.51,280.32 378.97,283.71 381.43,287.43 383.89,291.57 386.35,296.08 388.8,300.04 391.26,304.2 393.72,308.16 396.18,312.86 398.64,317.24 401.1,321.46 403.56,325.23 406.01,328.91 408.47,332.96 410.93,337 413.39,340.17 415.85,344.04 418.31,348.06 420.77,351.71 423.22,355.59 425.68,359.71 428.14,363.62" fill="none" stroke="#999" stroke-width="0.5" stroke-linejoin="round" opacity="1"/>
<g fill="#0a0a0a" stroke="none" stroke-width="0.7"><circle cx="270.79" cy="344.53" r="1.65"/><circle cx="273.25" cy="338.23" r="1.65"/><circle cx="275.71" cy="331.33" r="1.65"/><circle cx="278.17" cy="324.15" r="1.65"/><circle cx="280.63" cy="317.37" r="1.65"/><circle cx="283.09" cy="310.94" r="1.65"/><circle cx="285.54" cy="305.12" r="1.65"/><circle cx="288" cy="299.73" r="1.65"/><circle cx="290.46" cy="293.89" r="1.65"/><circle cx="292.92" cy="288.61" r="1.65"/><circle cx="295.38" cy="283.05" r="1.65"/><circle cx="297.84" cy="277.23" r="1.65"/><circle cx="300.3" cy="271.08" r="1.65"/><circle cx="302.75" cy="265.75" r="1.65"/><circle cx="305.21" cy="260.14" r="1.65"/><circle cx="307.67" cy="256.4" r="1.65"/><circle cx="310.13" cy="252.41" r="1.65"/><circle cx="312.59" cy="248.83" r="1.65"/><circle cx="315.05" cy="244.59" r="1.65"/><circle cx="317.51" cy="241.29" r="1.65"/><circle cx="319.96" cy="238.27" r="1.65"/><circle cx="322.42" cy="235.99" r="1.65"/><circle cx="324.88" cy="233.91" r="1.65"/><circle cx="327.34" cy="232.06" r="1.65"/><circle cx="329.8" cy="230.88" r="1.65"/><circle cx="332.26" cy="229.81" r="1.65"/><circle cx="334.72" cy="229.61" r="1.65"/><circle cx="337.17" cy="229.74" r="1.65"/><circle cx="339.63" cy="231.21" r="1.65"/><circle cx="342.09" cy="233.1" r="1.65"/><circle cx="344.55" cy="235.35" r="1.65"/><circle cx="347.01" cy="237.79" r="1.65"/><circle cx="349.47" cy="240.22" r="1.65"/><circle cx="351.93" cy="243.6" r="1.65"/><circle cx="354.38" cy="247.16" r="1.65"/><circle cx="356.84" cy="251.22" r="1.65"/><circle cx="359.3" cy="254.83" r="1.65"/><circle cx="361.76" cy="258.63" r="1.65"/><circle cx="364.22" cy="262.27" r="1.65"/><circle cx="366.68" cy="265.94" r="1.65"/><circle cx="369.14" cy="269.67" r="1.65"/><circle cx="371.59" cy="273.14" r="1.65"/><circle cx="374.05" cy="277.06" r="1.65"/><circle cx="376.51" cy="280.32" r="1.65"/><circle cx="378.97" cy="283.71" r="1.65"/><circle cx="381.43" cy="287.43" r="1.65"/><circle cx="383.89" cy="291.57" r="1.65"/><circle cx="386.35" cy="296.08" r="1.65"/><circle cx="388.8" cy="300.04" r="1.65"/><circle cx="391.26" cy="304.2" r="1.65"/><circle cx="393.72" cy="308.16" r="1.65"/><circle cx="396.18" cy="312.86" r="1.65"/><circle cx="398.64" cy="317.24" r="1.65"/><circle cx="401.1" cy="321.46" r="1.65"/><circle cx="403.56" cy="325.23" r="1.65"/><circle cx="406.01" cy="328.91" r="1.65"/><circle cx="408.47" cy="332.96" r="1.65"/><circle cx="410.93" cy="337" r="1.65"/><circle cx="413.39" cy="340.17" r="1.65"/><circle cx="415.85" cy="344.04" r="1.65"/><circle cx="418.31" cy="348.06" r="1.65"/><circle cx="420.77" cy="351.71" r="1.65"/><circle cx="423.22" cy="355.59" r="1.65"/><circle cx="425.68" cy="359.71" r="1.65"/><circle cx="428.14" cy="363.62" r="1.65"/></g>
<polyline points="270.79,304.51 273.25,299.26 275.71,292.47 278.17,286.91 280.63,281.47 283.09,276.28 285.54,271.11 288,266.28 290.46,261.61 292.92,257.97 295.38,254.33 297.84,251.09 300.3,247.97 302.75,244.76 305.21,241.59 307.67,238.55 310.13,235.76 312.59,233.77 315.05,232.07 317.51,230.74 319.96,230 322.42,229.61 324.88,229.5 327.34,229.5 329.8,229.71 332.26,230.44 334.72,231.94 337.17,233.92 339.63,235.99 342.09,238.04 344.55,240.53 347.01,243.16 349.47,246.48 351.93,249.51 354.38,253.28 356.84,257.01 359.3,261.1 361.76,264.32 364.22,268.33 366.68,271.84 369.14,275.86 371.59,279.27 374.05,282.47 376.51,286.24 378.97,290.43 381.43,294.76 383.89,299.24 386.35,303.4 388.8,307.75 391.26,311.8 393.72,315.58 396.18,319.17 398.64,322.95 401.1,326.13 403.56,329.73 406.01,333.82 408.47,337.15 410.93,340.71 413.39,344.38 415.85,348.14 418.31,351.93 420.77,355.35 423.22,358.76 425.68,362.44 428.14,364.92" fill="none" stroke="#ff8080" stroke-width="0.5" stroke-linejoin="round" opacity="1"/>
<g fill="#e60a0a" stroke="none" stroke-width="0.7"><circle cx="270.79" cy="304.51" r="1.6"/><circle cx="273.25" cy="299.26" r="1.6"/><circle cx="275.71" cy="292.47" r="1.6"/><circle cx="278.17" cy="286.91" r="1.6"/><circle cx="280.63" cy="281.47" r="1.6"/><circle cx="283.09" cy="276.28" r="1.6"/><circle cx="285.54" cy="271.11" r="1.6"/><circle cx="288" cy="266.28" r="1.6"/><circle cx="290.46" cy="261.61" r="1.6"/><circle cx="292.92" cy="257.97" r="1.6"/><circle cx="295.38" cy="254.33" r="1.6"/><circle cx="297.84" cy="251.09" r="1.6"/><circle cx="300.3" cy="247.97" r="1.6"/><circle cx="302.75" cy="244.76" r="1.6"/><circle cx="305.21" cy="241.59" r="1.6"/><circle cx="307.67" cy="238.55" r="1.6"/><circle cx="310.13" cy="235.76" r="1.6"/><circle cx="312.59" cy="233.77" r="1.6"/><circle cx="315.05" cy="232.07" r="1.6"/><circle cx="317.51" cy="230.74" r="1.6"/><circle cx="319.96" cy="230" r="1.6"/><circle cx="322.42" cy="229.61" r="1.6"/><circle cx="324.88" cy="229.5" r="1.6"/><circle cx="327.34" cy="229.5" r="1.6"/><circle cx="329.8" cy="229.71" r="1.6"/><circle cx="332.26" cy="230.44" r="1.6"/><circle cx="334.72" cy="231.94" r="1.6"/><circle cx="337.17" cy="233.92" r="1.6"/><circle cx="339.63" cy="235.99" r="1.6"/><circle cx="342.09" cy="238.04" r="1.6"/><circle cx="344.55" cy="240.53" r="1.6"/><circle cx="347.01" cy="243.16" r="1.6"/><circle cx="349.47" cy="246.48" r="1.6"/><circle cx="351.93" cy="249.51" r="1.6"/><circle cx="354.38" cy="253.28" r="1.6"/><circle cx="356.84" cy="257.01" r="1.6"/><circle cx="359.3" cy="261.1" r="1.6"/><circle cx="361.76" cy="264.32" r="1.6"/><circle cx="364.22" cy="268.33" r="1.6"/><circle cx="366.68" cy="271.84" r="1.6"/><circle cx="369.14" cy="275.86" r="1.6"/><circle cx="371.59" cy="279.27" r="1.6"/><circle cx="374.05" cy="282.47" r="1.6"/><circle cx="376.51" cy="286.24" r="1.6"/><circle cx="378.97" cy="290.43" r="1.6"/><circle cx="381.43" cy="294.76" r="1.6"/><circle cx="383.89" cy="299.24" r="1.6"/><circle cx="386.35" cy="303.4" r="1.6"/><circle cx="388.8" cy="307.75" r="1.6"/><circle cx="391.26" cy="311.8" r="1.6"/><circle cx="393.72" cy="315.58" r="1.6"/><circle cx="396.18" cy="319.17" r="1.6"/><circle cx="398.64" cy="322.95" r="1.6"/><circle cx="401.1" cy="326.13" r="1.6"/><circle cx="403.56" cy="329.73" r="1.6"/><circle cx="406.01" cy="333.82" r="1.6"/><circle cx="408.47" cy="337.15" r="1.6"/><circle cx="410.93" cy="340.71" r="1.6"/><circle cx="413.39" cy="344.38" r="1.6"/><circle cx="415.85" cy="348.14" r="1.6"/><circle cx="418.31" cy="351.93" r="1.6"/><circle cx="420.77" cy="355.35" r="1.6"/><circle cx="423.22" cy="358.76" r="1.6"/><circle cx="425.68" cy="362.44" r="1.6"/><circle cx="428.14" cy="364.92" r="1.6"/></g>
<polyline points="270.79,363.25 273.25,358.49 275.71,353.74 278.17,349.01 280.63,344.3 283.09,339.58 285.54,334.87 288,330.22 290.46,325.66 292.92,321.29 295.38,316.97 297.84,312.43 300.3,307.45 302.75,301.68 305.21,296.96 307.67,291.8 310.13,286.45 312.59,281.25 315.05,276.1 317.51,270.49 319.96,264.55 322.42,259.1 324.88,254 327.34,249.53 329.8,245.38 332.26,241.64 334.72,238.17 337.17,235.17 339.63,233.19 342.09,231.84 344.55,230.63 347.01,229.58 349.47,229.05 351.93,229.55 354.38,230.5 356.84,231 359.3,230.61 361.76,231.04 364.22,232.02 366.68,233.06 369.14,235.12 371.59,237.79 374.05,240.56 376.51,243.21 378.97,245.99 381.43,249.44 383.89,252.4 386.35,255.23 388.8,258.91 391.26,263.11 393.72,267.16 396.18,271.08 398.64,274.86 401.1,278.98 403.56,282.34 406.01,286.38 408.47,289.96 410.93,294.2 413.39,298.45 415.85,302.34 418.31,306.31 420.77,310.34 423.22,315.15 425.68,319.65 428.14,324.07" fill="none" stroke="#8080ff" stroke-width="0.5" stroke-linejoin="round" opacity="1"/>
<g fill="#1515e0" stroke="none" stroke-width="0.7"><circle cx="270.79" cy="363.25" r="1.35"/><circle cx="273.25" cy="358.49" r="1.35"/><circle cx="275.71" cy="353.74" r="1.35"/><circle cx="278.17" cy="349.01" r="1.35"/><circle cx="280.63" cy="344.3" r="1.35"/><circle cx="283.09" cy="339.58" r="1.35"/><circle cx="285.54" cy="334.87" r="1.35"/><circle cx="288" cy="330.22" r="1.35"/><circle cx="290.46" cy="325.66" r="1.35"/><circle cx="292.92" cy="321.29" r="1.35"/><circle cx="295.38" cy="316.97" r="1.35"/><circle cx="297.84" cy="312.43" r="1.35"/><circle cx="300.3" cy="307.45" r="1.35"/><circle cx="302.75" cy="301.68" r="1.35"/><circle cx="305.21" cy="296.96" r="1.35"/><circle cx="307.67" cy="291.8" r="1.35"/><circle cx="310.13" cy="286.45" r="1.35"/><circle cx="312.59" cy="281.25" r="1.35"/><circle cx="315.05" cy="276.1" r="1.35"/><circle cx="317.51" cy="270.49" r="1.35"/><circle cx="319.96" cy="264.55" r="1.35"/><circle cx="322.42" cy="259.1" r="1.35"/><circle cx="324.88" cy="254" r="1.35"/><circle cx="327.34" cy="249.53" r="1.35"/><circle cx="329.8" cy="245.38" r="1.35"/><circle cx="332.26" cy="241.64" r="1.35"/><circle cx="334.72" cy="238.17" r="1.35"/><circle cx="337.17" cy="235.17" r="1.35"/><circle cx="339.63" cy="233.19" r="1.35"/><circle cx="342.09" cy="231.84" r="1.35"/><circle cx="344.55" cy="230.63" r="1.35"/><circle cx="347.01" cy="229.58" r="1.35"/><circle cx="349.47" cy="229.05" r="1.35"/><circle cx="351.93" cy="229.55" r="1.35"/><circle cx="354.38" cy="230.5" r="1.35"/><circle cx="356.84" cy="231" r="1.35"/><circle cx="359.3" cy="230.61" r="1.35"/><circle cx="361.76" cy="231.04" r="1.35"/><circle cx="364.22" cy="232.02" r="1.35"/><circle cx="366.68" cy="233.06" r="1.35"/><circle cx="369.14" cy="235.12" r="1.35"/><circle cx="371.59" cy="237.79" r="1.35"/><circle cx="374.05" cy="240.56" r="1.35"/><circle cx="376.51" cy="243.21" r="1.35"/><circle cx="378.97" cy="245.99" r="1.35"/><circle cx="381.43" cy="249.44" r="1.35"/><circle cx="383.89" cy="252.4" r="1.35"/><circle cx="386.35" cy="255.23" r="1.35"/><circle cx="388.8" cy="258.91" r="1.35"/><circle cx="391.26" cy="263.11" r="1.35"/><circle cx="393.72" cy="267.16" r="1.35"/><circle cx="396.18" cy="271.08" r="1.35"/><circle cx="398.64" cy="274.86" r="1.35"/><circle cx="401.1" cy="278.98" r="1.35"/><circle cx="403.56" cy="282.34" r="1.35"/><circle cx="406.01" cy="286.38" r="1.35"/><circle cx="408.47" cy="289.96" r="1.35"/><circle cx="410.93" cy="294.2" r="1.35"/><circle cx="413.39" cy="298.45" r="1.35"/><circle cx="415.85" cy="302.34" r="1.35"/><circle cx="418.31" cy="306.31" r="1.35"/><circle cx="420.77" cy="310.34" r="1.35"/><circle cx="423.22" cy="315.15" r="1.35"/><circle cx="425.68" cy="319.65" r="1.35"/><circle cx="428.14" cy="324.07" r="1.35"/></g>
<g fill="#e60a0a" stroke="none" stroke-width="0.7"><circle cx="503.17" cy="305.4" r="1.75"/><circle cx="505.01" cy="299.37" r="1.75"/><circle cx="506.84" cy="293.45" r="1.75"/><circle cx="508.68" cy="287.7" r="1.75"/><circle cx="510.52" cy="282.14" r="1.75"/><circle cx="512.36" cy="276.81" r="1.75"/><circle cx="514.19" cy="271.76" r="1.75"/><circle cx="516.03" cy="267.03" r="1.75"/><circle cx="517.87" cy="262.64" r="1.75"/><circle cx="519.7" cy="258.57" r="1.75"/><circle cx="521.54" cy="254.79" r="1.75"/><circle cx="523.38" cy="251.29" r="1.75"/><circle cx="525.21" cy="248.04" r="1.75"/><circle cx="527.05" cy="245.02" r="1.75"/><circle cx="528.89" cy="242.21" r="1.75"/><circle cx="530.73" cy="239.58" r="1.75"/><circle cx="532.56" cy="237.13" r="1.75"/><circle cx="534.4" cy="234.88" r="1.75"/><circle cx="536.24" cy="232.84" r="1.75"/><circle cx="538.07" cy="231.04" r="1.75"/><circle cx="539.91" cy="229.49" r="1.75"/><circle cx="541.75" cy="228.21" r="1.75"/><circle cx="543.58" cy="227.22" r="1.75"/><circle cx="545.42" cy="226.53" r="1.75"/><circle cx="547.26" cy="226.17" r="1.75"/><circle cx="549.1" cy="226.15" r="1.75"/><circle cx="550.93" cy="226.47" r="1.75"/><circle cx="552.77" cy="227.12" r="1.75"/><circle cx="554.61" cy="228.07" r="1.75"/><circle cx="556.44" cy="229.28" r="1.75"/><circle cx="558.28" cy="230.74" r="1.75"/><circle cx="560.12" cy="232.42" r="1.75"/><circle cx="561.95" cy="234.29" r="1.75"/><circle cx="563.79" cy="236.34" r="1.75"/><circle cx="565.63" cy="238.52" r="1.75"/><circle cx="567.47" cy="240.82" r="1.75"/><circle cx="569.3" cy="243.21" r="1.75"/><circle cx="571.14" cy="245.66" r="1.75"/><circle cx="572.98" cy="248.16" r="1.75"/><circle cx="574.81" cy="250.7" r="1.75"/><circle cx="576.65" cy="253.28" r="1.75"/><circle cx="578.49" cy="255.9" r="1.75"/><circle cx="580.32" cy="258.57" r="1.75"/><circle cx="582.16" cy="261.28" r="1.75"/><circle cx="584" cy="264.04" r="1.75"/><circle cx="585.84" cy="266.84" r="1.75"/><circle cx="587.67" cy="269.69" r="1.75"/><circle cx="589.51" cy="272.58" r="1.75"/><circle cx="591.35" cy="275.53" r="1.75"/><circle cx="593.18" cy="278.51" r="1.75"/><circle cx="595.02" cy="281.52" r="1.75"/><circle cx="596.86" cy="284.55" r="1.75"/><circle cx="598.69" cy="287.58" r="1.75"/><circle cx="600.53" cy="290.61" r="1.75"/><circle cx="602.37" cy="293.61" r="1.75"/><circle cx="604.21" cy="296.58" r="1.75"/><circle cx="606.04" cy="299.51" r="1.75"/><circle cx="607.88" cy="302.38" r="1.75"/><circle cx="609.72" cy="305.18" r="1.75"/><circle cx="611.55" cy="307.91" r="1.75"/><circle cx="613.39" cy="310.56" r="1.75"/><circle cx="615.23" cy="313.15" r="1.75"/><circle cx="617.06" cy="315.67" r="1.75"/><circle cx="618.9" cy="318.11" r="1.75"/><circle cx="620.74" cy="320.49" r="1.75"/><circle cx="622.58" cy="322.79" r="1.75"/><circle cx="624.41" cy="325.03" r="1.75"/><circle cx="626.25" cy="327.2" r="1.75"/><circle cx="628.09" cy="329.3" r="1.75"/><circle cx="629.92" cy="331.33" r="1.75"/><circle cx="631.76" cy="333.3" r="1.75"/><circle cx="633.6" cy="335.19" r="1.75"/><circle cx="635.43" cy="337.03" r="1.75"/><circle cx="637.27" cy="338.79" r="1.75"/><circle cx="639.11" cy="340.49" r="1.75"/><circle cx="640.95" cy="342.12" r="1.75"/><circle cx="642.78" cy="343.69" r="1.75"/><circle cx="644.62" cy="345.2" r="1.75"/><circle cx="646.46" cy="346.64" r="1.75"/><circle cx="648.29" cy="348.02" r="1.75"/><circle cx="650.13" cy="349.33" r="1.75"/></g>
<path d="M501.67 366.89h3v3h-3zM503.51 365.61h3v3h-3zM505.34 364.19h3v3h-3zM507.18 362.64h3v3h-3zM509.02 360.96h3v3h-3zM510.86 359.17h3v3h-3zM512.69 357.27h3v3h-3zM514.53 355.27h3v3h-3zM516.37 353.19h3v3h-3zM518.2 351.02h3v3h-3zM520.04 348.79h3v3h-3zM521.88 346.49h3v3h-3zM523.71 344.14h3v3h-3zM525.55 341.75h3v3h-3zM527.39 339.33h3v3h-3zM529.23 336.88h3v3h-3zM531.06 334.41h3v3h-3zM532.9 331.94h3v3h-3zM534.74 329.47h3v3h-3zM536.57 327.01h3v3h-3zM538.41 324.58h3v3h-3zM540.25 322.21h3v3h-3zM542.08 319.91h3v3h-3zM543.92 317.7h3v3h-3zM545.76 315.61h3v3h-3zM547.6 313.65h3v3h-3zM549.43 311.83h3v3h-3zM551.27 310.19h3v3h-3zM553.11 308.75h3v3h-3zM554.94 307.49h3v3h-3zM556.78 306.43h3v3h-3zM558.62 305.55h3v3h-3zM560.45 304.85h3v3h-3zM562.29 304.31h3v3h-3zM564.13 303.92h3v3h-3zM565.97 303.68h3v3h-3zM567.8 303.57h3v3h-3zM569.64 303.59h3v3h-3zM571.48 303.74h3v3h-3zM573.31 304h3v3h-3zM575.15 304.37h3v3h-3zM576.99 304.84h3v3h-3zM578.82 305.41h3v3h-3zM580.66 306.07h3v3h-3zM582.5 306.82h3v3h-3zM584.34 307.64h3v3h-3zM586.17 308.55h3v3h-3zM588.01 309.52h3v3h-3zM589.85 310.56h3v3h-3zM591.68 311.66h3v3h-3zM593.52 312.81h3v3h-3zM595.36 314.01h3v3h-3zM597.19 315.25h3v3h-3zM599.03 316.53h3v3h-3zM600.87 317.84h3v3h-3zM602.71 319.18h3v3h-3zM604.54 320.53h3v3h-3zM606.38 321.9h3v3h-3zM608.22 323.28h3v3h-3zM610.05 324.66h3v3h-3zM611.89 326.04h3v3h-3zM613.73 327.41h3v3h-3zM615.56 328.77h3v3h-3zM617.4 330.12h3v3h-3zM619.24 331.45h3v3h-3zM621.08 332.77h3v3h-3zM622.91 334.08h3v3h-3zM624.75 335.37h3v3h-3zM626.59 336.66h3v3h-3zM628.42 337.93h3v3h-3zM630.26 339.19h3v3h-3zM632.1 340.43h3v3h-3zM633.93 341.66h3v3h-3zM635.77 342.88h3v3h-3zM637.61 344.09h3v3h-3zM639.45 345.28h3v3h-3zM641.28 346.47h3v3h-3zM643.12 347.63h3v3h-3zM644.96 348.79h3v3h-3zM646.79 349.93h3v3h-3zM648.63 351.06h3v3h-3z" fill="#0a0a0a"/>
<text x="1" y="9.9" font-size="11.1" text-anchor="start" fill="#161616" stroke="#161616" stroke-width="0.15" font-weight="bold">(A)</text>
<text x="220.8" y="9" font-size="11.1" text-anchor="start" fill="#161616" stroke="#161616" stroke-width="0.15" font-weight="bold">(B)</text>
<text x="451.2" y="9.9" font-size="11.1" text-anchor="start" fill="#161616" stroke="#161616" stroke-width="0.15" font-weight="bold">(C)</text>
<text x="3.3" y="197.9" font-size="11.1" text-anchor="start" fill="#161616" stroke="#161616" stroke-width="0.15" font-weight="bold">(D)</text>
<text x="224" y="202" font-size="11.1" text-anchor="start" fill="#161616" stroke="#161616" stroke-width="0.15" font-weight="bold">(E)</text>
<text x="450.9" y="201.5" font-size="11.1" text-anchor="start" fill="#161616" stroke="#161616" stroke-width="0.15" font-weight="bold">(F)</text>
<text x="75.1" y="194" font-size="10.6" text-anchor="start" fill="#161616" stroke="#161616" stroke-width="0.15" font-weight="bold" textLength="85.5" lengthAdjust="spacingAndGlyphs">Wavelength (nm)</text>
<text x="310.4" y="191.2" font-size="10.6" text-anchor="start" fill="#161616" stroke="#161616" stroke-width="0.15" font-weight="bold" textLength="86" lengthAdjust="spacingAndGlyphs">Wavelength (nm)</text>
<text x="534.2" y="190.5" font-size="10.6" text-anchor="start" fill="#161616" stroke="#161616" stroke-width="0.15" font-weight="bold" textLength="83.8" lengthAdjust="spacingAndGlyphs">Temperature (°c)</text>
<text x="84" y="402.1" font-size="10.6" text-anchor="start" fill="#161616" stroke="#161616" stroke-width="0.15" font-weight="bold" textLength="85" lengthAdjust="spacingAndGlyphs">Wavelength (nm)</text>
<text x="310.4" y="402.1" font-size="10.6" text-anchor="start" fill="#161616" stroke="#161616" stroke-width="0.15" font-weight="bold" textLength="85.5" lengthAdjust="spacingAndGlyphs">Wavelength (nm)</text>
<text x="532.8" y="402.5" font-size="10.6" text-anchor="start" fill="#161616" stroke="#161616" stroke-width="0.15" font-weight="bold" textLength="85.5" lengthAdjust="spacingAndGlyphs">Wavelength (nm)</text>
<text transform="translate(13.5 84.8) rotate(-90)" font-size="11" text-anchor="middle" fill="#161616" stroke="#161616" stroke-width="0.05" font-weight="bold" textLength="128.5" lengthAdjust="spacingAndGlyphs">(θ) X10<tspan font-size="8" dy="-6">−3</tspan><tspan dy="6">(deg&#8201;cm</tspan><tspan font-size="8" dy="-6">2</tspan><tspan dy="6">dmol</tspan><tspan font-size="8" dy="-6">−1</tspan><tspan dy="6">)</tspan></text>
<text transform="translate(237.6 85.6) rotate(-90)" font-size="11" text-anchor="middle" fill="#161616" stroke="#161616" stroke-width="0.05" font-weight="bold" textLength="127" lengthAdjust="spacingAndGlyphs">(θ) X10<tspan font-size="8" dy="-6">−3</tspan><tspan dy="6">(deg&#8201;cm</tspan><tspan font-size="8" dy="-6">2</tspan><tspan dy="6">dmol</tspan><tspan font-size="8" dy="-6">−1</tspan><tspan dy="6">)</tspan></text>
<text transform="translate(464.4 90) rotate(-90)" font-size="10.8" text-anchor="middle" fill="#161616" stroke="#161616" stroke-width="0.05" font-weight="bold" textLength="77.8" lengthAdjust="spacingAndGlyphs">Fractionfolded</text>
<text transform="translate(11.2 298.2) rotate(-90)" font-size="10.1" text-anchor="middle" fill="#161616" stroke="#161616" stroke-width="0.05" font-weight="bold" textLength="175.5" lengthAdjust="spacingAndGlyphs">Norm. Fluorescence Intensity (A.U)</text>
<text transform="translate(238.3 300.7) rotate(-90)" font-size="10.1" text-anchor="middle" fill="#161616" stroke="#161616" stroke-width="0.05" font-weight="bold" textLength="173.7" lengthAdjust="spacingAndGlyphs">Norm. Fluorescence Intensity (A.U)</text>
<text transform="translate(465.1 293.8) rotate(-90)" font-size="10.4" text-anchor="middle" fill="#161616" stroke="#161616" stroke-width="0.05" font-weight="bold" textLength="147.6" lengthAdjust="spacingAndGlyphs">Fluorescence Intensity (A.U)</text>
<rect x="158.3" y="20.6" width="48.2" height="19" fill="#fff" stroke="#a8a8a8" stroke-width="0.8"/>
<path d="M161.1 25.9H178.2" stroke="#666" stroke-width="1.1"/>
<path d="M161.1 35.1H178.2" stroke="#3a9a3a" stroke-width="1.1"/>
<circle cx="169.5" cy="25.9" r="1.45" fill="#fff" stroke="#222" stroke-width="0.9"/>
<circle cx="169.5" cy="35.1" r="1.45" fill="#fff" stroke="#2a8a2a" stroke-width="0.9"/>
<text x="180.9" y="28.3" font-size="7.9" text-anchor="start" fill="#161616" stroke="#161616" stroke-width="0.15" font-weight="bold" textLength="11.4" lengthAdjust="spacingAndGlyphs">WT</text>
<text x="180.9" y="37.7" font-size="7.7" text-anchor="start" fill="#1f8a28" stroke="#1f8a28" stroke-width="0.15" font-weight="bold" textLength="23.8" lengthAdjust="spacingAndGlyphs">Q564H</text>
<rect x="391.7" y="16.4" width="48.1" height="19" fill="#fff" stroke="#a8a8a8" stroke-width="0.8"/>
<path d="M394.4 21.6H411.6" stroke="#666" stroke-width="1.1"/>
<path d="M394.4 31.3H411.6" stroke="#3a9a3a" stroke-width="1.1"/>
<circle cx="403.1" cy="21.6" r="1.45" fill="#fff" stroke="#222" stroke-width="0.9"/>
<circle cx="403.1" cy="31.3" r="1.45" fill="#fff" stroke="#2a8a2a" stroke-width="0.9"/>
<text x="414.2" y="24.1" font-size="7.9" text-anchor="start" fill="#161616" stroke="#161616" stroke-width="0.15" font-weight="bold" textLength="11.4" lengthAdjust="spacingAndGlyphs">WT</text>
<text x="414.2" y="33.5" font-size="7.7" text-anchor="start" fill="#1f8a28" stroke="#1f8a28" stroke-width="0.15" font-weight="bold" textLength="23.8" lengthAdjust="spacingAndGlyphs">Q564H</text>
<text x="636.7" y="141.8" font-size="9.9" text-anchor="start" fill="#161616" stroke="#161616" stroke-width="0.15" font-weight="bold" textLength="13.9" lengthAdjust="spacingAndGlyphs">WT</text>
<text x="636.7" y="154.6" font-size="9.3" text-anchor="start" fill="#28aa55" stroke="#28aa55" stroke-width="0.15" font-weight="bold" textLength="30.4" lengthAdjust="spacingAndGlyphs">Q564H</text>
<text x="44.9" y="230.3" font-size="8" text-anchor="start" fill="#111" stroke="#111" stroke-width="0.15" font-weight="bold" textLength="39.2" lengthAdjust="spacingAndGlyphs">0 M GuHcl</text>
<text x="44.9" y="239.2" font-size="8" text-anchor="start" fill="#e82020" stroke="#e82020" stroke-width="0.15" font-weight="bold" textLength="45.6" lengthAdjust="spacingAndGlyphs">1.8 M GuHcl</text>
<text x="44.9" y="248.6" font-size="8" text-anchor="start" fill="#1c1cd0" stroke="#1c1cd0" stroke-width="0.15" font-weight="bold" textLength="39.2" lengthAdjust="spacingAndGlyphs">6 M GuHcl</text>
<text x="392.8" y="230.3" font-size="8" text-anchor="start" fill="#111" stroke="#111" stroke-width="0.15" font-weight="bold" textLength="39.2" lengthAdjust="spacingAndGlyphs">0 M GuHcl</text>
<text x="392.8" y="239.2" font-size="8" text-anchor="start" fill="#e82020" stroke="#e82020" stroke-width="0.15" font-weight="bold" textLength="45.6" lengthAdjust="spacingAndGlyphs">1.8 M GuHcl</text>
<text x="392.8" y="248.6" font-size="8" text-anchor="start" fill="#1c1cd0" stroke="#1c1cd0" stroke-width="0.15" font-weight="bold" textLength="39.2" lengthAdjust="spacingAndGlyphs">6 M GuHcl</text>
<rect x="573.3" y="219.7" width="91.5" height="17.8" fill="#fff" stroke="#777" stroke-width="0.8"/>
<path d="M575.2 224.6H587.8" stroke="#8a8aa0" stroke-width="0.6"/>
<path d="M575.2 232.8H587.8" stroke="#e88" stroke-width="0.6"/>
<rect x="579.7" y="223.2" width="2.9" height="2.9" fill="#000"/>
<circle cx="581.2" cy="232.6" r="1.75" fill="#e00"/>
<rect x="665.2" y="221.5" width="1.6" height="16.5" fill="#999"/>
<text x="591.9" y="226.9" font-size="5.9" text-anchor="start" fill="#161616" stroke="#161616" stroke-width="0.15" font-weight="bold" textLength="45" lengthAdjust="spacingAndGlyphs">8M Urea(347nm)</text>
<text x="591.9" y="234.7" font-size="5.9" text-anchor="start" fill="#161616" stroke="#161616" stroke-width="0.15" font-weight="bold" textLength="68.4" lengthAdjust="spacingAndGlyphs">Refolded protein(335nm)</text>
</svg>
</body></html>
